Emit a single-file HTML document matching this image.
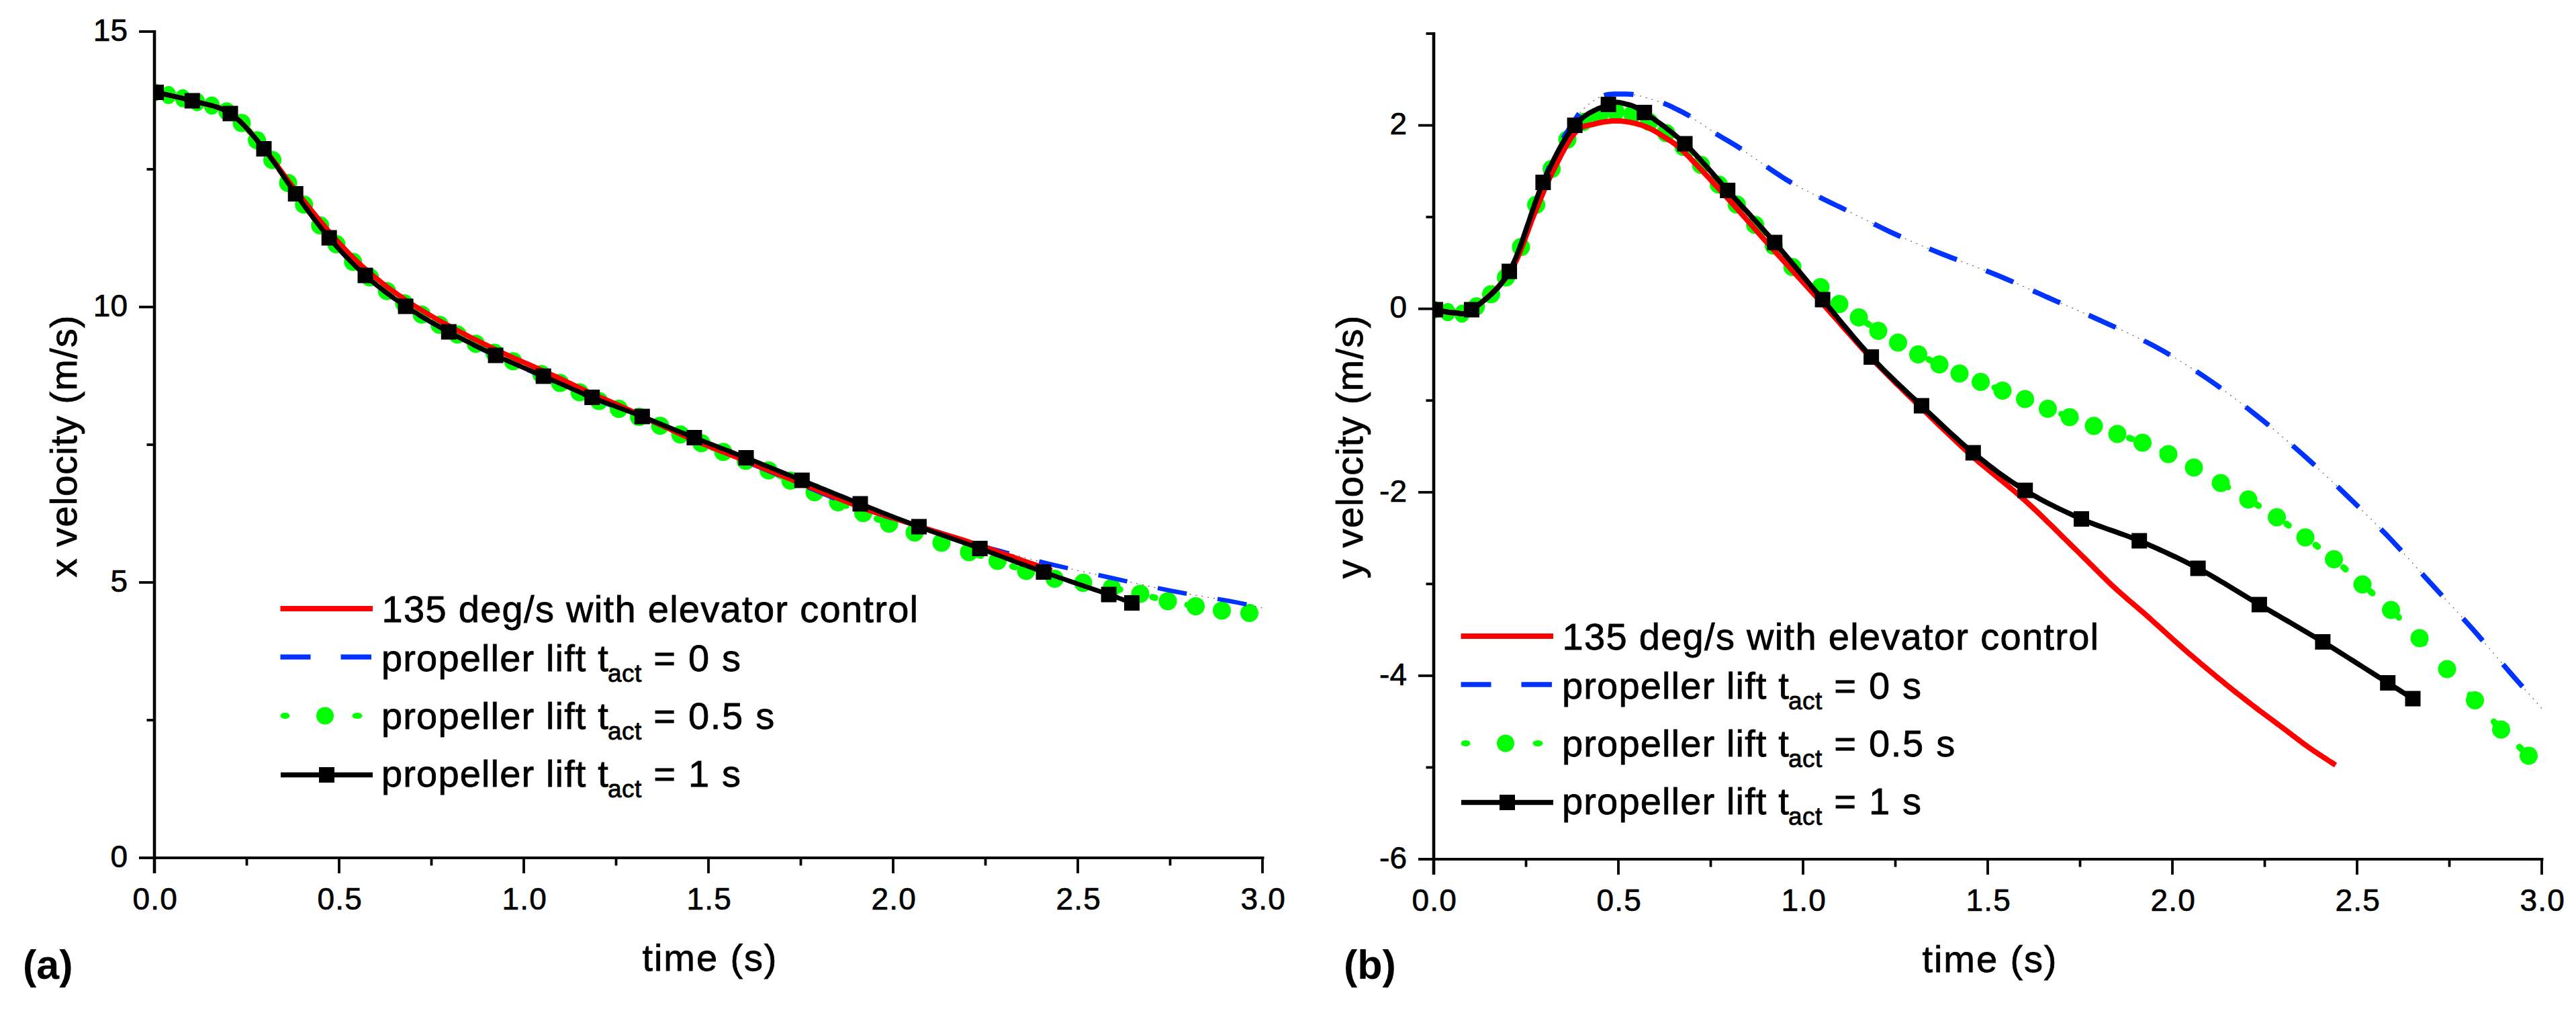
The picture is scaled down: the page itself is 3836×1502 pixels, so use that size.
<!DOCTYPE html>
<html lang="en"><head><meta charset="utf-8"><title>Velocity plots</title>
<style>html,body{margin:0;padding:0;background:#fff}svg{display:block}</style></head>
<body>
<svg width="3836" height="1502" viewBox="0 0 3836 1502" font-family='"Liberation Sans", Arial, sans-serif' fill="#000">
<rect width="3836" height="1502" fill="#fff"/>
<defs><clipPath id="cl"><rect x="230.0" y="0" width="1670.0" height="1277.0"/></clipPath><clipPath id="cr"><rect x="2135.0" y="0" width="1670.0" height="1279.0"/></clipPath></defs>
<g clip-path="url(#cl)">
<path d="M232.5 137.5L234.5 138.0L236.5 138.4L238.5 138.9L240.5 139.3L242.5 139.7L244.5 140.2L246.5 140.6L248.5 141.0L250.5 141.5L252.5 141.9L254.5 142.3L256.5 142.8L258.5 143.2L260.5 143.6L262.5 144.1L264.5 144.5L266.5 145.0L268.5 145.4L270.5 145.9L272.5 146.4L274.5 146.9L276.5 147.4L278.5 147.9L280.5 148.4L282.5 149.0L284.5 149.5L286.5 150.1L288.5 150.6L290.5 151.1L292.5 151.6L294.5 152.1L296.5 152.6L298.5 153.1L300.5 153.5L302.5 154.0L304.5 154.4L306.5 154.9L308.5 155.4L310.5 155.9L312.5 156.4L314.5 156.9L316.5 157.5L318.5 158.0L320.5 158.6L322.5 159.3L324.5 160.0L326.5 160.7L328.5 161.5L330.5 162.3L332.5 163.2L334.5 164.1L336.5 165.1L338.5 166.3L340.5 167.4L342.5 168.7L344.5 170.1L346.5 171.5L348.5 173.0L350.5 174.6L352.5 176.3L354.5 178.0L356.5 179.9L358.5 181.8L360.5 183.7L362.5 185.8L364.5 187.8L366.5 190.0L368.5 192.1L370.5 194.4L372.5 196.7L374.5 199.0L376.5 201.3L378.5 203.7L380.5 206.1L382.5 208.6L384.5 211.0L386.5 213.5L388.5 215.9L390.5 218.4L392.5 220.9L394.5 223.4L396.5 225.9L398.5 228.5L400.5 231.2L402.5 233.9L404.5 236.7L406.5 239.5L408.5 242.3L410.5 245.2L412.5 248.2L414.5 251.1L416.5 254.1L418.5 257.0L420.5 260.0L422.5 263.0L424.5 265.9L426.5 268.8L428.5 271.7L430.5 274.5L432.5 277.4L434.5 280.1L436.5 282.9L438.5 285.6L440.5 288.3L442.5 291.0L444.5 293.7L446.5 296.3L448.5 299.0L450.5 301.6L452.5 304.3L454.5 306.9L456.5 309.6L458.5 312.2L460.5 314.8L462.5 317.5L464.5 320.1L466.5 322.6L468.5 325.2L470.5 327.8L472.5 330.3L474.5 332.8L476.5 335.3L478.5 337.7L480.5 340.2L482.5 342.6L484.5 344.9L486.5 347.3L488.5 349.6L490.5 351.9L492.5 354.2L494.5 356.4L496.5 358.6L498.5 360.8L500.5 363.0L502.5 365.2L504.5 367.3L506.5 369.5L508.5 371.7L510.5 373.9L512.5 376.0L514.5 378.1L516.5 380.3L518.5 382.3L520.5 384.4L522.5 386.4L524.5 388.5L526.5 390.5L528.5 392.4L530.5 394.4L532.5 396.3L534.5 398.2L536.5 400.1L538.5 402.0L540.5 403.8L542.5 405.6L544.5 407.4L546.5 409.2L548.5 411.0L550.5 412.7L552.5 414.4L554.5 416.1L556.5 417.7L558.5 419.4L560.5 421.0L562.5 422.6L564.5 424.2L566.5 425.8L568.5 427.4L570.5 428.9L572.5 430.4L574.5 431.9L576.5 433.4L578.5 434.9L580.5 436.4L582.5 437.9L584.5 439.3L586.5 440.8L588.5 442.2L590.5 443.6L592.5 445.0L594.5 446.4L596.5 447.8L598.5 449.2L600.5 450.5L602.5 451.9L604.5 453.3L606.5 454.6L608.5 455.9L610.5 457.2L612.5 458.5L614.5 459.8L616.5 461.1L618.5 462.4L620.5 463.6L622.5 464.8L624.5 466.1L626.5 467.3L628.5 468.5L630.5 469.7L632.5 470.9L634.5 472.1L636.5 473.2L638.5 474.4L640.5 475.5L642.5 476.7L644.5 477.8L646.5 479.0L648.5 480.1L650.5 481.2L652.5 482.3L654.5 483.4L656.5 484.5L658.5 485.7L660.5 486.8L662.5 487.9L664.5 488.9L666.5 490.0L668.5 491.1L670.5 492.2L672.5 493.3L674.5 494.4L676.5 495.4L678.5 496.5L680.5 497.5L682.5 498.6L684.5 499.6L686.5 500.7L688.5 501.7L690.5 502.7L692.5 503.8L694.5 504.8L696.5 505.8L698.5 506.8L700.5 507.8L702.5 508.8L704.5 509.8L706.5 510.8L708.5 511.8L710.5 512.8L712.5 513.8L714.5 514.7L716.5 515.7L718.5 516.7L720.5 517.7L722.5 518.6L724.5 519.6L726.5 520.5L728.5 521.5L730.5 522.4L732.5 523.4L734.5 524.3L736.5 525.3L738.5 526.2L740.5 527.1L742.5 528.1L744.5 529.0L746.5 529.9L748.5 530.8L750.5 531.7L752.5 532.6L754.5 533.5L756.5 534.4L758.5 535.2L760.5 536.1L762.5 537.0L764.5 537.9L766.5 538.7L768.5 539.6L770.5 540.4L772.5 541.3L774.5 542.1L776.5 543.0L778.5 543.9L780.5 544.8L782.5 545.7L784.5 546.6L786.5 547.5L788.5 548.5L790.5 549.4L792.5 550.3L794.5 551.3L796.5 552.2L798.5 553.1L800.5 554.1L802.5 555.0L804.5 556.0L806.5 556.9L808.5 557.9L810.5 558.8L812.5 559.8L814.5 560.7L816.5 561.7L818.5 562.6L820.5 563.6L822.5 564.6L824.5 565.5L826.5 566.5L828.5 567.5L830.5 568.4L832.5 569.4L834.5 570.4L836.5 571.3L838.5 572.3L840.5 573.3L842.5 574.2L844.5 575.2L846.5 576.1L848.5 577.1L850.5 578.1L852.5 579.0L854.5 580.0L856.5 580.9L858.5 581.9L860.5 582.8L862.5 583.8L864.5 584.7L866.5 585.6L868.5 586.6L870.5 587.5L872.5 588.4L874.5 589.3L876.5 590.2L878.5 591.1L880.5 592.0L882.5 592.9L884.5 593.7L886.5 594.6L888.5 595.4L890.5 596.2L892.5 597.1L894.5 597.9L896.5 598.7L898.5 599.5L900.5 600.3L902.5 601.1L904.5 601.9L906.5 602.7L908.5 603.5L910.5 604.3L912.5 605.1L914.5 605.9L916.5 606.7L918.5 607.5L920.5 608.2L922.5 609.0L924.5 609.8L926.5 610.6L928.5 611.4L930.5 612.2L932.5 613.0L934.5 613.7L936.5 614.5L938.5 615.3L940.5 616.1L942.5 616.9L944.5 617.7L946.5 618.5L948.5 619.3L950.5 620.1L952.5 621.0L954.5 621.8L956.5 622.6L958.5 623.4L960.5 624.3L962.5 625.1L964.5 625.9L966.5 626.8L968.5 627.6L970.5 628.5L972.5 629.3L974.5 630.2L976.5 631.0L978.5 631.9L980.5 632.7L982.5 633.6L984.5 634.4L986.5 635.3L988.5 636.2L990.5 637.0L992.5 637.9L994.5 638.7L996.5 639.6L998.5 640.5L1000.5 641.3L1002.5 642.2L1004.5 643.0L1006.5 643.9L1008.5 644.8L1010.5 645.6L1012.5 646.5L1014.5 647.3L1016.5 648.2L1018.5 649.0L1020.5 649.9L1022.5 650.7L1024.5 651.6L1026.5 652.4L1028.5 653.3L1030.5 654.1L1032.5 654.9L1034.5 655.8L1036.5 656.6L1038.5 657.4L1040.5 658.2L1042.5 659.0L1044.5 659.8L1046.5 660.6L1048.5 661.4L1050.5 662.2L1052.5 663.0L1054.5 663.8L1056.5 664.6L1058.5 665.4L1060.5 666.2L1062.5 666.9L1064.5 667.7L1066.5 668.5L1068.5 669.3L1070.5 670.1L1072.5 670.9L1074.5 671.7L1076.5 672.5L1078.5 673.3L1080.5 674.0L1082.5 674.8L1084.5 675.6L1086.5 676.4L1088.5 677.2L1090.5 678.0L1092.5 678.8L1094.5 679.6L1096.5 680.4L1098.5 681.2L1100.5 682.0L1102.5 682.8L1104.5 683.6L1106.5 684.4L1108.5 685.2L1110.5 686.0L1112.5 686.8L1114.5 687.6L1116.5 688.4L1118.5 689.2L1120.5 690.1L1122.3 690.8L1124.0 691.5L1126.0 692.3L1128.5 693.3L1131.5 694.6L1134.8 695.9L1138.8 697.7L1144.0 700.0L1150.7 703.1L1158.7 706.8L1167.3 710.9L1176.0 715.0L1184.8 719.3L1194.1 723.8L1203.4 728.2L1212.5 732.5L1221.4 736.4L1230.1 740.2L1238.8 743.8L1247.5 747.5L1256.1 751.2L1264.7 754.9L1273.4 758.6L1282.5 762.5L1292.2 766.6L1302.2 770.8L1312.5 775.1L1322.5 779.0L1332.3 782.6L1342.0 785.8L1351.7 789.1L1361.5 792.5L1371.4 796.2L1381.2 800.0L1391.1 803.8L1401.0 807.5L1410.7 811.0L1420.3 814.4L1430.0 817.7L1440.0 821.0L1450.4 824.2L1461.0 827.4L1471.8 830.6L1482.5 834.0L1493.1 837.7L1503.8 841.6L1514.4 845.4L1525.0 849.0L1535.6 852.3L1546.1 855.5L1556.7 858.5L1567.5 861.0L1578.6 863.0L1590.0 864.5L1601.4 865.9L1612.5 867.5L1623.3 869.3L1633.8 871.1L1644.4 873.0L1655.0 875.0L1665.9 877.1L1676.8 879.3L1687.8 881.6L1698.5 884.0L1708.9 886.7L1719.1 889.6L1729.3 892.4L1739.5 895.0L1749.9 897.1L1760.4 899.0L1770.8 900.8L1781.0 902.5L1790.9 904.3L1800.5 906.0L1810.2 907.6L1820.0 909.0L1830.1 910.1L1840.4 910.9L1850.7 911.7L1861.0 912.5" fill="none" stroke="#00ff00" stroke-width="9.5" stroke-linecap="round" stroke-dasharray="4 49.5" stroke-dashoffset="8.6"/>
<g fill="#00ff00"><ellipse cx="230.0" cy="137.5" rx="11.3" ry="13.5"/><ellipse cx="250.9" cy="141.5" rx="11.3" ry="13.5"/><ellipse cx="272.1" cy="146.3" rx="11.5" ry="13.5"/><ellipse cx="293.6" cy="151.9" rx="11.7" ry="13.5"/><ellipse cx="315.4" cy="157.1" rx="11.8" ry="13.5"/><ellipse cx="337.5" cy="165.7" rx="12.4" ry="13.5"/><ellipse cx="359.9" cy="183.1" rx="13.5" ry="13.5"/><ellipse cx="382.6" cy="208.7" rx="13.5" ry="13.5"/><ellipse cx="405.6" cy="238.3" rx="13.5" ry="13.5"/><ellipse cx="429.0" cy="272.4" rx="13.5" ry="13.5"/><ellipse cx="452.7" cy="304.5" rx="13.5" ry="13.5"/><ellipse cx="476.7" cy="335.5" rx="13.5" ry="13.5"/><ellipse cx="501.0" cy="363.6" rx="13.5" ry="13.5"/><ellipse cx="525.7" cy="389.7" rx="13.5" ry="13.5"/><ellipse cx="550.8" cy="412.9" rx="13.5" ry="13.5"/><ellipse cx="576.2" cy="433.2" rx="13.5" ry="13.5"/><ellipse cx="601.9" cy="451.5" rx="13.5" ry="13.5"/><ellipse cx="628.0" cy="468.2" rx="13.5" ry="13.5"/><ellipse cx="654.5" cy="483.4" rx="13.5" ry="13.5"/><ellipse cx="681.3" cy="498.0" rx="13.5" ry="13.5"/><ellipse cx="708.6" cy="511.8" rx="13.5" ry="13.5"/><ellipse cx="736.2" cy="525.1" rx="13.5" ry="13.5"/><ellipse cx="764.1" cy="537.7" rx="13.5" ry="13.5"/><ellipse cx="806.0" cy="556.7" rx="13.5" ry="13.5"/><ellipse cx="834.0" cy="570.1" rx="13.5" ry="13.5"/><ellipse cx="863.0" cy="584.0" rx="13.5" ry="13.5"/><ellipse cx="892.0" cy="596.9" rx="13.5" ry="13.5"/><ellipse cx="921.5" cy="608.6" rx="13.5" ry="13.5"/><ellipse cx="951.5" cy="620.6" rx="13.5" ry="13.5"/><ellipse cx="983.0" cy="633.8" rx="13.5" ry="13.5"/><ellipse cx="1013.0" cy="646.7" rx="13.5" ry="13.5"/><ellipse cx="1044.5" cy="659.8" rx="13.5" ry="13.5"/><ellipse cx="1077.0" cy="672.7" rx="13.5" ry="13.5"/><ellipse cx="1110.5" cy="686.0" rx="13.5" ry="13.5"/><ellipse cx="1144.5" cy="700.2" rx="13.5" ry="13.5"/><ellipse cx="1177.0" cy="715.5" rx="13.5" ry="13.5"/><ellipse cx="1213.0" cy="732.7" rx="13.5" ry="13.5"/><ellipse cx="1248.0" cy="747.7" rx="13.5" ry="13.5"/><ellipse cx="1285.5" cy="763.8" rx="13.5" ry="13.5"/><ellipse cx="1324.0" cy="779.5" rx="13.5" ry="13.5"/><ellipse cx="1362.0" cy="792.7" rx="13.5" ry="13.5"/><ellipse cx="1402.0" cy="807.9" rx="13.5" ry="13.5"/><ellipse cx="1443.0" cy="821.9" rx="13.5" ry="13.5"/><ellipse cx="1485.5" cy="835.0" rx="13.5" ry="13.5"/><ellipse cx="1528.0" cy="849.9" rx="13.5" ry="13.5"/><ellipse cx="1570.5" cy="861.5" rx="13.5" ry="13.5"/><ellipse cx="1613.0" cy="867.6" rx="13.5" ry="13.5"/><ellipse cx="1655.5" cy="875.1" rx="13.5" ry="13.5"/><ellipse cx="1698.0" cy="883.9" rx="13.5" ry="13.5"/><ellipse cx="1739.0" cy="894.9" rx="13.5" ry="13.5"/><ellipse cx="1780.5" cy="902.4" rx="13.5" ry="13.5"/><ellipse cx="1819.5" cy="908.9" rx="13.5" ry="13.5"/><ellipse cx="1860.5" cy="912.5" rx="13.5" ry="13.5"/></g>
<path d="M232.5 137.5L235.8 138.3L239.2 139.0L242.5 139.8L245.9 140.5L249.2 141.2L252.5 141.9L255.9 142.7L259.2 143.4L262.6 144.1L265.9 144.9L269.3 145.7L272.6 146.5L276.0 147.3L279.4 148.3L282.8 149.2L286.3 150.1L289.8 151.0L293.3 151.8L296.9 152.7L300.4 153.6L304.0 154.5L307.6 155.3L311.3 156.2L314.9 157.1L318.5 158.2L322.1 159.3L325.7 160.5L329.2 161.9L332.7 163.4L336.2 165.2L339.6 167.1L343.0 169.2L346.3 171.5L349.6 174.0L352.8 176.8L356.0 179.6L359.2 182.6L362.4 185.8L365.5 189.1L368.6 192.4L371.7 195.9L374.8 199.5L377.8 203.1L380.9 206.8L383.9 210.5L387.0 214.2L390.0 217.9L393.0 221.7L396.0 225.6L399.0 229.5L402.0 233.5L404.9 237.5L407.9 241.7L410.8 245.9L413.7 250.2L416.6 254.4L419.5 258.8L422.4 263.1L425.3 267.5L428.2 271.8L431.2 276.1L434.2 280.3L437.2 284.6L440.2 288.8L443.2 293.0L446.2 297.2L449.3 301.3L452.4 305.5L455.5 309.7L458.5 313.9L461.6 318.1L464.8 322.3L467.9 326.4L471.0 330.5L474.2 334.6L477.3 338.7L480.5 342.7L483.7 346.6L487.0 350.5L490.2 354.4L493.4 358.2L496.7 361.9L499.9 365.6L503.2 369.3L506.5 372.9L509.8 376.5L513.1 380.1L516.5 383.6L519.8 387.1L523.2 390.6L526.6 394.0L530.0 397.3L533.5 400.7L536.9 404.0L540.5 407.2L544.0 410.4L547.6 413.6L551.2 416.7L554.8 419.8L558.5 422.9L562.2 425.8L565.9 428.8L569.6 431.7L573.4 434.6L577.2 437.5L581.0 440.3L584.8 443.0L588.7 445.8L592.5 448.5L596.4 451.2L600.2 453.9L604.1 456.5L608.0 459.1L611.9 461.7L615.8 464.2L619.7 466.7L623.7 469.1L627.6 471.5L631.6 473.9L635.6 476.3L639.6 478.6L643.6 480.9L647.7 483.2L651.7 485.5L655.8 487.8L659.9 490.1L664.1 492.3L668.3 494.6L672.5 496.9L676.7 499.2L681.0 501.4L685.3 503.7L689.6 505.9L694.0 508.2L698.3 510.4L702.7 512.6L707.1 514.8L711.6 517.0L716.0 519.1L720.4 521.3L724.8 523.4L729.2 525.5L733.7 527.6L738.1 529.7L742.5 531.8L746.9 533.8L751.3 535.8L755.7 537.8L760.2 539.7L764.6 541.6L769.0 543.6L773.5 545.5L777.9 547.4L782.4 549.3L786.8 551.2L791.3 553.1L795.7 555.0L800.2 556.9L804.7 558.9L809.2 560.8L813.7 562.8L818.2 564.8L822.7 566.8L827.2 568.7L831.7 570.7L836.2 572.8L840.7 574.8L845.2 576.8L849.8 578.8L854.3 580.8L858.9 582.7L863.4 584.7L868.0 586.7L872.6 588.6L877.1 590.5L881.7 592.4L886.3 594.3L890.9 596.1L895.5 597.9L900.2 599.7L904.8 601.5L909.4 603.2L914.0 605.0L918.7 606.7L923.3 608.5L928.0 610.2L932.7 611.9L937.4 613.7L942.1 615.6L946.8 617.5L951.5 619.4L956.2 621.3L961.0 623.4L965.8 625.4L970.6 627.5L975.5 629.6L980.3 631.7L985.2 633.9L990.0 636.0L994.9 638.2L999.8 640.3L1004.7 642.5L1009.6 644.6L1014.4 646.8L1019.3 648.9L1024.2 651.0L1029.0 653.1L1033.9 655.2L1038.7 657.2L1043.5 659.3L1048.3 661.3L1053.1 663.3L1057.8 665.3L1062.6 667.3L1067.3 669.2L1072.1 671.2L1076.9 673.2L1081.7 675.2L1086.5 677.2L1091.3 679.2L1096.2 681.3L1101.1 683.3L1106.0 685.4L1111.0 687.5L1116.1 689.6L1121.1 691.7L1126.2 693.7L1131.3 695.8L1136.5 697.9L1141.7 700.1L1146.9 702.2L1152.1 704.4L1157.3 706.6L1162.6 708.7L1167.8 710.9L1173.1 713.1L1178.4 715.3L1183.7 717.5L1189.0 719.7L1194.3 721.9L1199.7 724.1L1205.0 726.4L1210.4 728.6L1215.7 730.8L1221.1 733.1L1226.5 735.4L1232.0 737.6L1237.4 739.9L1242.8 742.0L1248.3 744.1L1253.7 746.1L1259.2 748.1L1264.6 750.1L1270.1 752.0L1275.6 753.8L1281.0 755.7L1286.4 757.5L1291.9 759.4L1297.3 761.2L1302.7 763.1L1308.2 765.0L1313.6 766.8L1319.0 768.7L1324.5 770.5L1329.9 772.2L1335.4 773.9L1340.9 775.5L1346.4 777.1L1351.9 778.8L1357.4 780.3L1362.9 781.9L1368.5 783.5L1374.0 785.1L1379.6 786.7L1385.2 788.3L1390.8 790.0L1396.5 791.7L1402.1 793.5L1407.7 795.3L1413.4 797.2L1419.1 799.0L1424.8 800.7L1430.5 802.6L1436.2 804.4L1441.9 806.2L1447.7 808.1L1453.4 810.0L1459.2 811.8L1465.0 813.5L1470.9 815.2L1476.7 816.8L1482.6 818.4L1488.5 820.0L1494.4 821.6L1500.3 823.1L1506.2 824.7L1511.8 826.1L1517.2 827.5L1523.1 829.1L1530.1 830.9L1537.6 832.9L1545.5 835.1L1555.3 837.7L1568.8 841.0L1587.1 845.2L1609.3 850.2L1633.0 855.4L1656.0 860.5L1677.9 865.4L1699.9 870.2L1721.9 875.0L1744.0 879.5L1767.1 883.8L1790.8 887.8L1813.2 891.6L1832.5 895.0L1847.3 897.9L1858.8 900.3L1869.1 902.6L1880.0 905.0" fill="none" stroke="#555" stroke-width="1.1" stroke-dasharray="2 7"/>
<path d="M232.5 137.5L235.8 138.3L239.2 139.0L242.5 139.8L245.9 140.5L249.2 141.2L252.5 141.9L255.9 142.7L259.2 143.4L262.6 144.1L265.9 144.9L269.3 145.7L272.6 146.5L276.0 147.3L279.4 148.3L282.8 149.2L286.3 150.1L289.8 151.0L293.3 151.8L296.9 152.7L300.4 153.6L304.0 154.5L307.6 155.3L311.3 156.2L314.9 157.1L318.5 158.2L322.1 159.3L325.7 160.5L329.2 161.9L332.7 163.4L336.2 165.2L339.6 167.1L343.0 169.2L346.3 171.5L349.6 174.0L352.8 176.8L356.0 179.6L359.2 182.6L362.4 185.8L365.5 189.1L368.6 192.4L371.7 195.9L374.8 199.5L377.8 203.1L380.9 206.8L383.9 210.5L387.0 214.2L390.0 217.9L393.0 221.7L396.0 225.6L399.0 229.5L402.0 233.5L404.9 237.5L407.9 241.7L410.8 245.9L413.7 250.2L416.6 254.4L419.5 258.8L422.4 263.1L425.3 267.5L428.2 271.8L431.2 276.1L434.2 280.3L437.2 284.6L440.2 288.8L443.2 293.0L446.2 297.2L449.3 301.3L452.4 305.5L455.5 309.7L458.5 313.9L461.6 318.1L464.8 322.3L467.9 326.4L471.0 330.5L474.2 334.6L477.3 338.7L480.5 342.7L483.7 346.6L487.0 350.5L490.2 354.4L493.4 358.2L496.7 361.9L499.9 365.6L503.2 369.3L506.5 372.9L509.8 376.5L513.1 380.1L516.5 383.6L519.8 387.1L523.2 390.6L526.6 394.0L530.0 397.3L533.5 400.7L536.9 404.0L540.5 407.2L544.0 410.4L547.6 413.6L551.2 416.7L554.8 419.8L558.5 422.9L562.2 425.8L565.9 428.8L569.6 431.7L573.4 434.6L577.2 437.5L581.0 440.3L584.8 443.0L588.7 445.8L592.5 448.5L596.4 451.2L600.2 453.9L604.1 456.5L608.0 459.1L611.9 461.7L615.8 464.2L619.7 466.7L623.7 469.1L627.6 471.5L631.6 473.9L635.6 476.3L639.6 478.6L643.6 480.9L647.7 483.2L651.7 485.5L655.8 487.8L659.9 490.1L664.1 492.3L668.3 494.6L672.5 496.9L676.7 499.2L681.0 501.4L685.3 503.7L689.6 505.9L694.0 508.2L698.3 510.4L702.7 512.6L707.1 514.8L711.6 517.0L716.0 519.1L720.4 521.3L724.8 523.4L729.2 525.5L733.7 527.6L738.1 529.7L742.5 531.8L746.9 533.8L751.3 535.8L755.7 537.8L760.2 539.7L764.6 541.6L769.0 543.6L773.5 545.5L777.9 547.4L782.4 549.3L786.8 551.2L791.3 553.1L795.7 555.0L800.2 556.9L804.7 558.9L809.2 560.8L813.7 562.8L818.2 564.8L822.7 566.8L827.2 568.7L831.7 570.7L836.2 572.8L840.7 574.8L845.2 576.8L849.8 578.8L854.3 580.8L858.9 582.7L863.4 584.7L868.0 586.7L872.6 588.6L877.1 590.5L881.7 592.4L886.3 594.3L890.9 596.1L895.5 597.9L900.2 599.7L904.8 601.5L909.4 603.2L914.0 605.0L918.7 606.7L923.3 608.5L928.0 610.2L932.7 611.9L937.4 613.7L942.1 615.6L946.8 617.5L951.5 619.4L956.2 621.3L961.0 623.4L965.8 625.4L970.6 627.5L975.5 629.6L980.3 631.7L985.2 633.9L990.0 636.0L994.9 638.2L999.8 640.3L1004.7 642.5L1009.6 644.6L1014.4 646.8L1019.3 648.9L1024.2 651.0L1029.0 653.1L1033.9 655.2L1038.7 657.2L1043.5 659.3L1048.3 661.3L1053.1 663.3L1057.8 665.3L1062.6 667.3L1067.3 669.2L1072.1 671.2L1076.9 673.2L1081.7 675.2L1086.5 677.2L1091.3 679.2L1096.2 681.3L1101.1 683.3L1106.0 685.4L1111.0 687.5L1116.1 689.6L1121.1 691.7L1126.2 693.7L1131.3 695.8L1136.5 697.9L1141.7 700.1L1146.9 702.2L1152.1 704.4L1157.3 706.6L1162.6 708.7L1167.8 710.9L1173.1 713.1L1178.4 715.3L1183.7 717.5L1189.0 719.7L1194.3 721.9L1199.7 724.1L1205.0 726.4L1210.4 728.6L1215.7 730.8L1221.1 733.1L1226.5 735.4L1232.0 737.6L1237.4 739.9L1242.8 742.0L1248.3 744.1L1253.7 746.1L1259.2 748.1L1264.6 750.1L1270.1 752.0L1275.6 753.8L1281.0 755.7L1286.4 757.5L1291.9 759.4L1297.3 761.2L1302.7 763.1L1308.2 765.0L1313.6 766.8L1319.0 768.7L1324.5 770.5L1329.9 772.2L1335.4 773.9L1340.9 775.5L1346.4 777.1L1351.9 778.8L1357.4 780.3L1362.9 781.9L1368.5 783.5L1374.0 785.1L1379.6 786.7L1385.2 788.3L1390.8 790.0L1396.5 791.7L1402.1 793.5L1407.7 795.3L1413.4 797.2L1419.1 799.0L1424.8 800.7L1430.5 802.6L1436.2 804.4L1441.9 806.2L1447.7 808.1L1453.4 810.0L1459.2 811.8L1465.0 813.5L1470.9 815.2L1476.7 816.8L1482.6 818.4L1488.5 820.0L1494.4 821.6L1500.3 823.1L1506.2 824.7L1511.8 826.1L1517.2 827.5L1523.1 829.1L1530.1 830.9L1537.6 832.9L1545.5 835.1L1555.3 837.7L1568.8 841.0L1587.1 845.2L1609.3 850.2L1633.0 855.4L1656.0 860.5L1677.9 865.4L1699.9 870.2L1721.9 875.0L1744.0 879.5L1767.1 883.8L1790.8 887.8L1813.2 891.6L1832.5 895.0L1847.3 897.9L1858.8 900.3L1869.1 902.6L1880.0 905.0" fill="none" stroke="#0033ff" stroke-width="6.5" stroke-dasharray="44.0 46.5" stroke-dashoffset="12.9"/>
<path d="M232.5 137.5L235.9 138.3L239.2 139.0L242.5 139.8L245.9 140.5L249.2 141.2L252.5 141.9L255.9 142.6L259.2 143.3L262.6 144.1L265.9 144.8L269.3 145.6L272.6 146.4L276.0 147.3L279.4 148.1L282.9 149.0L286.3 150.0L289.8 150.9L293.3 151.8L296.8 152.7L300.4 153.5L304.0 154.3L307.6 155.2L311.3 156.1L314.9 157.0L318.5 158.0L322.1 159.1L325.7 160.4L329.2 161.7L332.7 163.3L336.2 165.0L339.6 166.9L343.0 169.0L346.3 171.3L349.6 173.9L352.8 176.6L356.0 179.4L359.2 182.4L362.4 185.6L365.5 188.9L368.6 192.2L371.7 195.7L374.8 199.3L377.8 202.9L380.9 206.6L383.9 210.3L386.9 214.0L390.0 217.8L393.0 221.5L396.0 225.2L399.0 228.7L402.0 232.4L404.9 236.1L407.9 240.0L410.8 243.8L413.7 247.8L416.6 251.7L419.5 255.7L422.4 259.7L425.3 263.7L428.2 267.7L431.2 271.7L434.2 275.6L437.1 279.5L440.2 283.4L443.2 287.2L446.3 291.1L449.3 294.9L452.4 298.8L455.5 302.7L458.5 306.6L461.6 310.4L464.8 314.3L467.9 318.1L471.0 321.9L474.2 325.6L477.3 329.3L480.5 333.3L483.7 337.2L487.0 341.1L490.2 344.9L493.4 348.6L496.7 352.4L500.0 356.0L503.2 359.7L506.5 363.3L509.8 366.9L513.1 370.4L516.5 373.9L519.8 377.3L523.2 380.8L526.6 384.1L530.0 387.5L533.5 390.8L536.9 394.0L540.5 397.3L544.0 400.4L547.6 403.6L551.2 406.7L554.8 409.7L558.5 412.7L562.2 415.7L565.9 418.7L569.6 421.6L573.4 424.5L577.2 427.4L581.0 430.2L584.8 433.0L588.7 435.8L592.5 438.5L596.4 441.2L600.2 443.9L604.1 446.5L608.0 449.2L611.9 451.7L615.8 454.3L619.7 456.8L623.7 459.2L627.6 461.6L631.6 464.0L635.6 466.4L639.6 468.7L643.6 471.1L647.7 473.4L651.7 475.7L655.8 478.0L659.9 480.3L664.1 482.6L668.3 484.9L672.5 487.2L676.7 489.5L681.0 491.8L685.3 494.0L689.6 496.3L694.0 498.6L698.3 500.8L702.7 503.0L707.1 505.2L711.6 507.4L716.0 509.6L720.4 511.8L724.8 513.9L729.2 516.1L733.7 518.2L738.1 520.4L742.5 522.5L746.9 524.5L751.3 526.6L755.7 528.6L760.2 530.6L764.6 532.6L769.0 534.5L773.5 536.5L777.9 538.4L782.4 540.4L786.8 542.3L791.3 544.3L795.7 546.2L800.2 548.2L804.7 550.2L809.2 552.2L813.7 554.2L818.2 556.2L822.7 558.3L827.2 560.3L831.7 562.4L836.2 564.5L840.7 566.7L845.2 568.8L849.8 571.0L854.3 573.2L858.9 575.4L863.4 577.5L868.0 579.7L872.6 581.8L877.1 583.9L881.7 586.0L886.3 588.0L890.9 590.1L895.5 592.1L900.2 594.0L904.8 596.0L909.4 597.9L914.0 599.9L918.7 601.9L923.3 604.0L928.0 606.2L932.7 608.4L937.4 610.5L942.1 612.7L946.8 615.0L951.5 617.2L956.2 619.5L961.0 621.8L965.8 624.1L970.6 626.3L975.5 628.5L980.3 630.8L985.2 633.1L990.0 635.4L994.9 637.7L999.8 640.0L1004.7 642.3L1009.6 644.6L1014.4 646.9L1019.3 649.1L1024.2 651.4L1029.0 653.6L1033.9 655.6L1038.7 657.5L1043.5 659.5L1048.3 661.4L1053.1 663.3L1057.8 665.2L1062.6 667.1L1067.3 669.0L1072.1 670.9L1076.9 672.8L1081.7 674.7L1086.5 676.6L1091.3 678.6L1096.2 680.5L1101.1 682.5L1106.0 684.5L1111.0 686.5L1116.1 688.5L1121.1 690.6L1126.2 692.6L1131.3 694.7L1136.5 696.8L1141.7 698.9L1146.9 701.0L1152.1 703.1L1157.3 705.3L1162.6 707.4L1167.8 709.6L1173.1 711.7L1178.4 713.9L1183.7 716.1L1189.0 718.2L1194.3 720.4L1199.6 722.6L1205.0 724.7L1210.4 726.9L1215.7 729.1L1221.1 731.4L1226.5 733.5L1232.0 735.7L1237.4 737.8L1242.8 740.0L1248.3 742.2L1253.7 744.3L1259.2 746.5L1264.7 748.6L1270.1 750.8L1275.6 752.9L1281.0 755.0L1286.4 757.1L1291.9 758.9L1297.3 760.7L1302.7 762.4L1308.2 764.2L1313.6 766.0L1319.0 767.7L1324.5 769.5L1329.9 771.2L1335.4 772.9L1340.9 774.7L1346.4 776.4L1351.9 778.1L1357.4 779.8L1362.9 781.7L1368.5 783.5L1374.0 785.3L1379.6 787.0L1385.2 788.8L1390.8 790.6L1396.5 792.3L1402.1 794.0L1407.7 795.8L1413.4 797.5L1419.1 799.2L1424.8 800.9L1430.5 802.7L1436.2 804.4L1441.9 806.2L1447.7 808.2L1453.4 810.1L1459.2 812.1L1465.0 814.1L1470.9 816.1L1476.7 818.1L1482.6 820.1L1488.5 822.2L1494.4 824.3L1500.3 826.3L1506.2 828.4L1512.2 830.5L1518.1 832.6L1524.1 834.7L1530.1 836.7L1536.1 838.8L1542.1 840.9L1548.0 842.9L1554.0 844.9L1560.2 846.9L1566.5 849.0" fill="none" stroke="#ff0000" stroke-width="7.5"/>
<path d="M232.5 137.5L235.9 138.3L239.2 139.0L242.5 139.8L245.9 140.5L249.2 141.2L252.5 141.9L255.9 142.6L259.2 143.3L262.6 144.1L265.9 144.8L269.3 145.6L272.6 146.4L276.0 147.3L279.4 148.1L282.9 149.0L286.3 150.0L289.8 150.9L293.3 151.8L296.8 152.7L300.4 153.5L304.0 154.3L307.6 155.2L311.3 156.1L314.9 157.0L318.5 158.0L322.1 159.1L325.7 160.4L329.2 161.7L332.7 163.3L336.2 165.0L339.6 166.9L343.0 169.0L346.3 171.3L349.6 173.9L352.8 176.6L356.0 179.4L359.2 182.4L362.4 185.6L365.5 188.9L368.6 192.2L371.7 195.7L374.8 199.3L377.8 202.9L380.9 206.6L383.9 210.3L386.9 214.0L390.0 217.8L393.0 221.5L396.0 225.3L399.0 229.2L402.0 233.2L404.9 237.3L407.9 241.4L410.8 245.6L413.7 249.9L416.6 254.2L419.5 258.5L422.4 262.8L425.3 267.2L428.2 271.5L431.2 275.8L434.2 280.1L437.1 284.3L440.2 288.5L443.2 292.7L446.3 296.8L449.3 301.0L452.4 305.2L455.5 309.4L458.5 313.6L461.6 317.8L464.8 321.9L467.9 326.1L471.0 330.2L474.2 334.3L477.3 338.3L480.5 342.3L483.7 346.3L487.0 350.2L490.2 354.0L493.4 357.8L496.7 361.5L500.0 365.2L503.2 368.9L506.5 372.5L509.8 376.1L513.1 379.7L516.5 383.2L519.8 386.7L523.2 390.1L526.6 393.6L530.0 396.9L533.5 400.3L536.9 403.5L540.5 406.8L544.0 410.0L547.6 413.2L551.2 416.3L554.8 419.4L558.5 422.4L562.2 425.4L565.9 428.3L569.6 431.2L573.4 434.1L577.2 437.0L581.0 439.8L584.8 442.6L588.7 445.3L592.5 448.0L596.4 450.7L600.2 453.4L604.1 456.0L608.0 458.6L611.9 461.2L615.8 463.7L619.7 466.1L623.7 468.6L627.6 471.0L631.6 473.3L635.6 475.7L639.6 478.0L643.6 480.3L647.7 482.6L651.7 484.9L655.8 487.2L659.9 489.4L664.1 491.7L668.3 494.0L672.5 496.3L676.7 498.5L681.0 500.8L685.3 503.1L689.6 505.3L694.0 507.5L698.3 509.7L702.7 511.9L707.1 514.1L711.6 516.3L716.0 518.5L720.4 520.6L724.8 522.7L729.2 524.8L733.7 526.9L738.1 529.0L742.5 531.0L746.9 533.1L751.3 535.1L755.7 537.0L760.2 539.0L764.6 540.9L769.0 542.8L773.5 544.7L777.9 546.6L782.4 548.5L786.8 550.4L791.3 552.3L795.7 554.2L800.2 556.1L804.7 558.1L809.2 560.0L813.7 562.0L818.2 563.9L822.7 565.9L827.2 567.9L831.7 569.9L836.2 571.9L840.7 573.9L845.2 575.9L849.8 577.9L854.3 579.9L858.9 581.9L863.4 583.8L868.0 585.8L872.6 587.7L877.1 589.6L881.7 591.5L886.3 593.4L890.9 595.2L895.5 597.0L900.2 598.8L904.8 600.5L909.4 602.3L914.0 604.0L918.7 605.8L923.3 607.5L928.0 609.2L932.7 611.0L937.4 612.7L942.1 614.5L946.8 616.3L951.5 618.1L956.2 620.0L961.0 621.9L965.8 623.8L970.6 625.7L975.5 627.7L980.3 629.7L985.2 631.7L990.0 633.7L994.9 635.7L999.8 637.7L1004.7 639.7L1009.6 641.7L1014.4 643.7L1019.3 645.6L1024.2 647.6L1029.0 649.6L1033.9 651.5L1038.7 653.4L1043.5 655.3L1048.3 657.2L1053.1 659.0L1057.8 660.9L1062.6 662.7L1067.3 664.5L1072.1 666.4L1076.9 668.2L1081.7 670.1L1086.5 671.9L1091.3 673.8L1096.2 675.7L1101.1 677.6L1106.0 679.5L1111.0 681.5L1116.1 683.5L1121.1 685.5L1126.2 687.5L1131.3 689.6L1136.5 691.7L1141.7 693.7L1146.9 695.8L1152.1 697.9L1157.3 700.1L1162.6 702.2L1167.8 704.3L1173.1 706.4L1178.4 708.6L1183.7 710.7L1189.0 712.9L1194.3 715.0L1199.6 717.1L1205.0 719.3L1210.4 721.5L1215.7 723.7L1221.1 725.9L1226.5 728.1L1232.0 730.3L1237.4 732.5L1242.8 734.7L1248.3 736.9L1253.7 739.1L1259.2 741.3L1264.7 743.5L1270.1 745.7L1275.6 747.8L1281.0 750.0L1286.4 752.2L1291.9 754.3L1297.3 756.5L1302.7 758.6L1308.2 760.7L1313.6 762.9L1319.0 765.0L1324.5 767.2L1329.9 769.3L1335.4 771.4L1340.9 773.5L1346.4 775.6L1351.9 777.7L1357.4 779.8L1362.9 781.9L1368.5 784.0L1374.0 786.1L1379.6 788.1L1385.2 790.2L1390.8 792.2L1396.5 794.2L1402.1 796.2L1407.7 798.2L1413.4 800.2L1419.1 802.2L1424.8 804.2L1430.5 806.2L1436.2 808.2L1441.9 810.3L1447.7 812.3L1453.4 814.4L1459.2 816.5L1465.0 818.6L1470.9 820.8L1476.7 822.9L1482.6 825.1L1488.5 827.3L1494.4 829.5L1500.3 831.7L1506.2 833.9L1512.2 836.2L1518.1 838.4L1524.1 840.6L1530.1 842.8L1536.1 845.0L1542.1 847.2L1548.0 849.3L1554.0 851.5L1560.2 853.7L1566.5 855.9L1573.0 858.2L1579.6 860.5L1586.3 862.8L1593.0 865.1L1599.7 867.4L1606.3 869.7L1612.8 871.9L1619.2 874.0L1625.3 876.1L1631.2 878.1L1636.7 880.0L1641.9 881.8L1646.7 883.5L1651.1 885.0L1654.9 886.4L1658.4 887.6L1661.4 888.6L1664.1 889.6L1666.5 890.5L1668.6 891.2L1670.5 891.9L1672.2 892.6L1673.8 893.2L1675.3 893.7L1676.8 894.3L1678.4 894.9L1679.9 895.5L1681.6 896.1L1683.5 896.8L1685.5 897.5" fill="none" stroke="#000" stroke-width="7.0" stroke-linejoin="round"/>
<g fill="#000"><rect x="221.0" y="126.0" width="23.0" height="23.0"/><rect x="274.8" y="138.5" width="23.0" height="23.0"/><rect x="331.5" y="157.5" width="23.0" height="23.0"/><rect x="381.5" y="210.0" width="23.0" height="23.0"/><rect x="428.7" y="277.0" width="23.0" height="23.0"/><rect x="478.7" y="342.5" width="23.0" height="23.0"/><rect x="532.5" y="398.5" width="23.0" height="23.0"/><rect x="592.6" y="444.5" width="23.0" height="23.0"/><rect x="656.8" y="482.5" width="23.0" height="23.0"/><rect x="726.6" y="517.5" width="23.0" height="23.0"/><rect x="797.7" y="548.5" width="23.0" height="23.0"/><rect x="870.2" y="580.0" width="23.0" height="23.0"/><rect x="944.8" y="608.5" width="23.0" height="23.0"/><rect x="1022.4" y="640.0" width="23.0" height="23.0"/><rect x="1099.5" y="670.0" width="23.0" height="23.0"/><rect x="1182.8" y="703.5" width="23.0" height="23.0"/><rect x="1269.5" y="738.5" width="23.0" height="23.0"/><rect x="1357.0" y="772.5" width="23.0" height="23.0"/><rect x="1447.7" y="805.0" width="23.0" height="23.0"/><rect x="1542.5" y="840.0" width="23.0" height="23.0"/><rect x="1639.6" y="873.5" width="23.0" height="23.0"/><rect x="1674.0" y="886.0" width="23.0" height="23.0"/></g>
</g>
<g stroke="#000" fill="none" stroke-linecap="butt">
<line x1="230.0" y1="45.1" x2="230.0" y2="1300.0" stroke-width="4.6000000000000005"/>
<line x1="207.0" y1="1277.0" x2="1882.5" y2="1277.0" stroke-width="4.2"/>
<line x1="367.5" y1="1277.0" x2="367.5" y2="1288.5" stroke-width="3.8"/>
<line x1="505.0" y1="1277.0" x2="505.0" y2="1300.0" stroke-width="3.8"/>
<line x1="642.5" y1="1277.0" x2="642.5" y2="1288.5" stroke-width="3.8"/>
<line x1="780.0" y1="1277.0" x2="780.0" y2="1300.0" stroke-width="3.8"/>
<line x1="917.5" y1="1277.0" x2="917.5" y2="1288.5" stroke-width="3.8"/>
<line x1="1055.0" y1="1277.0" x2="1055.0" y2="1300.0" stroke-width="3.8"/>
<line x1="1192.5" y1="1277.0" x2="1192.5" y2="1288.5" stroke-width="3.8"/>
<line x1="1330.0" y1="1277.0" x2="1330.0" y2="1300.0" stroke-width="3.8"/>
<line x1="1467.5" y1="1277.0" x2="1467.5" y2="1288.5" stroke-width="3.8"/>
<line x1="1605.0" y1="1277.0" x2="1605.0" y2="1300.0" stroke-width="3.8"/>
<line x1="1742.5" y1="1277.0" x2="1742.5" y2="1288.5" stroke-width="3.8"/>
<line x1="1880.0" y1="1277.0" x2="1880.0" y2="1300.0" stroke-width="3.8"/>
<line x1="207.0" y1="867.0" x2="230.0" y2="867.0" stroke-width="3.8"/>
<line x1="207.0" y1="457.0" x2="230.0" y2="457.0" stroke-width="3.8"/>
<line x1="207.0" y1="47.0" x2="230.0" y2="47.0" stroke-width="3.8"/>
<line x1="218.5" y1="1072.0" x2="230.0" y2="1072.0" stroke-width="3.8"/>
<line x1="218.5" y1="662.0" x2="230.0" y2="662.0" stroke-width="3.8"/>
<line x1="218.5" y1="252.0" x2="230.0" y2="252.0" stroke-width="3.8"/>
</g>
<g font-size="46" letter-spacing="1.2" stroke="#000" stroke-width="0.7">
<text x="231.2" y="1354.3" text-anchor="middle">0.0</text>
<text x="506.2" y="1354.3" text-anchor="middle">0.5</text>
<text x="781.2" y="1354.3" text-anchor="middle">1.0</text>
<text x="1056.2" y="1354.3" text-anchor="middle">1.5</text>
<text x="1331.2" y="1354.3" text-anchor="middle">2.0</text>
<text x="1606.2" y="1354.3" text-anchor="middle">2.5</text>
<text x="1881.2" y="1354.3" text-anchor="middle">3.0</text>
<text x="190.0" y="1290.7" text-anchor="end" letter-spacing="0">0</text>
<text x="190.0" y="880.7" text-anchor="end" letter-spacing="0">5</text>
<text x="190.0" y="470.7" text-anchor="end" letter-spacing="0">10</text>
<text x="190.0" y="60.7" text-anchor="end" letter-spacing="0">15</text>
</g>
<line x1="417.5" y1="906" x2="555.0" y2="906" stroke="#ff0000" stroke-width="8"/>
<line x1="417.5" y1="978" x2="462.5" y2="978" stroke="#0033ff" stroke-width="7.5"/>
<line x1="507.5" y1="978" x2="553.0" y2="978" stroke="#0033ff" stroke-width="7.5"/>
<g fill="#00ff00"><ellipse cx="424.5" cy="1065.5" rx="7" ry="4.5"/><ellipse cx="532.0" cy="1065.5" rx="7.5" ry="4.5"/><circle cx="484.0" cy="1065.5" r="13"/></g>
<line x1="418.0" y1="1153.5" x2="555.0" y2="1153.5" stroke="#000" stroke-width="7.5"/>
<rect x="475.0" y="1142.0" width="23" height="23"/>
<g font-size="56" stroke="#000" stroke-width="0.8">
<text x="568.5" y="926.0" letter-spacing="1.3">135 deg/s with elevator control</text>
<text x="568.0" y="998.5" letter-spacing="1.15">propeller lift t<tspan font-size="37" dx="-2" dy="16" letter-spacing="0.5">act</tspan><tspan dy="-16" letter-spacing="1.75"> = 0 s</tspan></text>
<text x="568.0" y="1084.5" letter-spacing="1.15">propeller lift t<tspan font-size="37" dx="-2" dy="16" letter-spacing="0.5">act</tspan><tspan dy="-16" letter-spacing="1.75"> = 0.5 s</tspan></text>
<text x="568.0" y="1170.5" letter-spacing="1.15">propeller lift t<tspan font-size="37" dx="-2" dy="16" letter-spacing="0.5">act</tspan><tspan dy="-16" letter-spacing="1.75"> = 1 s</tspan></text>
</g>
<g clip-path="url(#cr)">
<path d="M2137.5 461.0L2139.0 461.3L2140.5 461.6L2142.0 461.8L2143.5 462.1L2145.0 462.4L2146.5 462.8L2148.0 463.1L2149.5 463.4L2151.0 463.7L2152.5 464.0L2154.0 464.3L2155.5 464.6L2157.0 464.8L2158.5 465.0L2160.0 465.2L2161.5 465.3L2163.0 465.4L2164.5 465.5L2166.0 465.5L2167.5 465.6L2169.0 465.8L2170.5 466.1L2172.0 466.4L2173.5 466.7L2175.0 466.8L2176.5 467.0L2178.0 467.0L2179.5 466.9L2181.0 466.6L2182.5 466.2L2184.0 465.7L2185.5 465.0L2187.0 464.2L2188.5 463.3L2190.0 462.3L2191.5 461.3L2193.0 460.3L2194.5 459.2L2196.0 458.1L2197.5 456.9L2199.0 455.8L2200.5 454.7L2202.0 453.5L2203.5 452.4L2205.0 451.2L2206.5 450.0L2208.0 448.8L2209.5 447.6L2211.0 446.3L2212.5 445.1L2214.0 443.8L2215.5 442.5L2217.0 441.1L2218.5 439.8L2220.0 438.4L2221.5 437.0L2223.0 435.5L2224.5 434.1L2226.0 432.5L2227.5 431.0L2229.0 429.4L2230.5 427.8L2232.0 426.1L2233.5 424.4L2235.0 422.6L2236.5 420.8L2238.0 418.9L2239.5 417.0L2241.0 415.0L2242.5 412.9L2244.0 410.8L2245.5 408.5L2247.0 406.1L2248.5 403.7L2250.0 401.1L2251.5 398.3L2253.0 395.4L2254.5 392.3L2256.0 389.1L2257.5 385.8L2259.0 382.3L2260.5 378.7L2262.0 375.0L2263.5 371.2L2265.0 367.3L2266.5 363.3L2268.0 359.2L2269.5 355.1L2271.0 350.9L2272.5 346.6L2274.0 342.3L2275.5 338.0L2277.0 333.7L2278.5 329.4L2280.0 325.2L2281.5 321.0L2283.0 316.9L2284.5 312.9L2286.0 309.0L2287.5 305.0L2289.0 301.1L2290.5 297.3L2292.0 293.5L2293.5 289.8L2295.0 286.1L2296.5 282.5L2298.0 278.9L2299.5 275.4L2301.0 272.0L2302.5 268.7L2304.0 265.4L2305.5 262.1L2307.0 258.9L2308.5 255.8L2310.0 252.7L2311.5 249.6L2313.0 246.6L2314.5 243.6L2316.0 240.6L2317.5 237.6L2319.0 234.7L2320.5 231.8L2322.0 228.9L2323.5 226.1L2325.0 223.4L2326.5 220.6L2328.0 217.9L2329.5 215.3L2331.0 212.8L2332.5 210.3L2334.0 207.8L2335.5 205.5L2337.0 203.2L2338.5 200.9L2340.0 198.8L2341.5 196.7L2343.0 194.8L2344.5 192.9L2346.0 191.2L2347.5 189.5L2349.0 188.0L2350.5 186.7L2352.0 185.4L2353.5 184.2L2355.0 183.2L2356.5 182.2L2358.0 181.3L2359.5 180.5L2361.0 179.7L2362.5 179.0L2364.0 178.4L2365.5 177.8L2367.0 177.2L2368.5 176.6L2370.0 176.1L2371.5 175.5L2373.0 175.0L2374.5 174.4L2376.0 173.9L2377.5 173.3L2379.0 172.8L2380.5 172.3L2382.0 171.8L2383.5 171.3L2385.0 170.9L2386.5 170.4L2388.0 170.0L2389.5 169.5L2391.0 169.1L2392.5 168.7L2394.0 168.3L2395.5 167.9L2397.0 167.6L2398.5 167.2L2400.0 166.9L2401.5 166.6L2403.0 166.4L2404.5 166.2L2406.0 166.1L2407.5 166.1L2409.0 166.1L2410.5 166.2L2412.0 166.4L2413.5 166.6L2415.0 166.8L2416.5 167.1L2418.0 167.3L2419.5 167.6L2421.0 167.9L2422.5 168.2L2424.0 168.4L2425.5 168.8L2427.0 169.1L2428.5 169.5L2430.0 169.9L2431.5 170.3L2433.0 170.8L2434.5 171.3L2436.0 171.9L2437.5 172.5L2439.0 173.1L2440.5 173.7L2442.0 174.4L2443.5 175.1L2445.0 175.8L2446.5 176.5L2448.0 177.3L2449.5 178.1L2451.0 178.9L2452.5 179.7L2454.0 180.5L2455.5 181.4L2457.0 182.2L2458.5 183.1L2460.0 184.0L2461.5 184.9L2463.0 185.9L2464.5 186.8L2466.0 187.8L2467.5 188.8L2469.0 189.8L2470.5 190.8L2472.0 191.8L2473.5 192.8L2475.0 193.9L2476.5 194.9L2478.0 196.0L2479.5 197.0L2481.0 198.1L2482.5 199.1L2484.0 200.2L2485.5 201.2L2487.0 202.3L2488.5 203.4L2490.0 204.5L2491.5 205.6L2493.0 206.8L2494.5 207.9L2496.0 209.1L2497.5 210.4L2499.0 211.7L2500.5 213.0L2502.0 214.3L2503.5 215.6L2505.0 217.0L2506.5 218.4L2508.0 219.8L2509.5 221.2L2511.0 222.7L2512.5 224.1L2514.0 225.6L2515.5 227.1L2517.0 228.6L2518.5 230.2L2520.0 231.7L2521.5 233.3L2523.0 234.8L2524.5 236.4L2526.0 238.0L2527.5 239.6L2529.0 241.2L2530.5 242.8L2532.0 244.4L2533.5 246.0L2535.0 247.7L2536.5 249.3L2538.0 250.9L2539.5 252.6L2541.0 254.2L2542.5 255.9L2544.0 257.5L2545.5 259.2L2547.0 260.9L2548.5 262.5L2550.0 264.2L2551.5 265.9L2553.0 267.5L2554.5 269.2L2556.0 270.9L2557.5 272.6L2559.0 274.2L2560.5 275.9L2562.0 277.6L2563.5 279.2L2565.0 280.9L2566.5 282.5L2568.0 284.2L2569.5 285.9L2571.0 287.5L2572.5 289.2L2574.0 290.8L2575.5 292.5L2577.0 294.1L2578.5 295.8L2580.0 297.4L2581.5 299.1L2583.0 300.7L2584.5 302.4L2586.0 304.0L2587.5 305.7L2589.0 307.3L2590.5 309.0L2592.0 310.7L2593.5 312.3L2595.0 314.0L2596.5 315.7L2598.0 317.3L2599.5 319.0L2601.0 320.7L2602.5 322.3L2604.0 324.0L2605.5 325.7L2607.0 327.4L2608.5 329.0L2610.0 330.7L2611.5 332.4L2613.0 334.1L2614.5 335.7L2616.0 337.4L2617.5 339.1L2619.0 340.8L2620.5 342.4L2622.0 344.1L2623.5 345.8L2625.0 347.5L2626.5 349.2L2628.0 350.8L2629.5 352.5L2631.0 354.2L2632.5 355.9L2634.0 357.6L2635.5 359.3L2637.0 361.0L2638.5 362.6L2640.0 364.3L2641.5 366.0L2643.0 367.7L2644.5 369.4L2646.0 371.1L2647.5 372.8L2649.0 374.5L2650.5 376.2L2652.0 377.9L2653.5 379.6L2655.0 381.3L2656.5 383.0L2658.0 384.7L2659.5 386.4L2661.0 388.1L2662.5 389.8L2664.0 391.5L2665.5 393.3L2667.0 395.0L2668.5 396.7L2670.0 398.4L2671.5 400.1L2673.0 401.8L2674.5 403.6L2676.0 405.3L2677.5 407.0L2679.0 408.7L2680.5 410.5L2682.0 412.2L2683.5 413.9L2685.0 415.6L2686.5 417.4L2688.0 419.1L2689.5 420.8L2690.8 422.7L2691.9 424.7L2693.3 426.5L2695.5 427.7L2698.4 427.6L2701.9 426.5L2706.0 425.9L2711.0 427.5L2717.1 432.1L2724.2 438.7L2731.6 446.0L2739.0 452.5L2746.2 457.9L2753.4 462.8L2760.7 467.6L2768.0 472.5L2775.2 477.6L2782.5 482.7L2789.7 487.7L2797.0 492.5L2804.3 497.1L2811.7 501.4L2819.1 505.7L2826.5 510.0L2833.9 514.4L2841.4 518.9L2848.9 523.3L2856.5 527.5L2864.3 531.5L2872.2 535.2L2880.2 538.9L2888.0 542.5L2895.6 546.0L2903.0 549.4L2910.4 552.7L2918.0 556.0L2925.7 559.2L2933.6 562.3L2941.5 565.4L2949.5 568.5L2957.5 571.7L2965.6 575.0L2973.8 578.3L2982.0 581.5L2990.3 584.6L2998.7 587.7L3007.1 590.7L3015.5 594.0L3024.0 597.5L3032.6 601.2L3041.1 605.0L3049.5 608.5L3057.6 611.8L3065.6 614.8L3073.7 617.9L3082.0 621.0L3090.8 624.2L3099.8 627.5L3109.0 630.8L3118.0 634.0L3126.8 637.0L3135.4 640.0L3144.1 643.0L3153.0 646.0L3162.2 649.1L3171.5 652.2L3181.0 655.4L3190.5 659.0L3200.1 662.9L3209.7 667.1L3219.4 671.4L3229.0 676.0L3238.5 680.7L3247.9 685.6L3257.4 690.7L3267.0 696.0L3276.8 701.5L3286.8 707.2L3296.9 713.1L3307.0 719.0L3317.1 725.0L3327.3 731.0L3337.6 737.2L3348.0 743.5L3358.5 749.9L3369.2 756.4L3379.8 763.1L3390.5 770.0L3401.1 777.2L3411.8 784.6L3422.4 792.2L3433.0 800.0L3443.6 807.8L3454.2 815.8L3464.9 824.0L3475.5 832.5L3486.1 841.5L3496.8 850.9L3507.4 860.5L3518.0 870.0L3528.6 879.4L3539.2 888.7L3549.9 898.2L3560.5 908.0L3571.2 918.1L3581.8 928.5L3592.5 939.1L3603.0 950.0L3613.3 961.2L3623.6 972.7L3633.8 984.4L3644.0 996.0L3654.4 1007.7L3664.9 1019.4L3675.3 1031.1L3685.5 1042.5L3695.4 1053.7L3705.0 1064.7L3714.7 1075.5L3724.5 1086.0L3734.6 1096.1L3744.9 1105.8L3755.2 1115.4L3765.5 1125.0" fill="none" stroke="#00ff00" stroke-width="9.5" stroke-linecap="round" stroke-dasharray="4 49.5" stroke-dashoffset="23.5"/>
<g fill="#00ff00"><ellipse cx="2135.0" cy="461.0" rx="11.3" ry="13.5"/><ellipse cx="2155.9" cy="464.6" rx="11.3" ry="13.5"/><ellipse cx="2177.1" cy="467.0" rx="11.3" ry="13.5"/><ellipse cx="2198.6" cy="456.1" rx="12.6" ry="13.5"/><ellipse cx="2220.4" cy="438.0" rx="13.5" ry="13.5"/><ellipse cx="2242.5" cy="413.0" rx="13.5" ry="13.5"/><ellipse cx="2264.9" cy="367.7" rx="13.5" ry="13.5"/><ellipse cx="2287.6" cy="304.8" rx="13.5" ry="13.5"/><ellipse cx="2310.6" cy="251.4" rx="13.5" ry="13.5"/><ellipse cx="2334.0" cy="207.8" rx="13.5" ry="13.5"/><ellipse cx="2357.7" cy="181.5" rx="13.5" ry="13.5"/><ellipse cx="2381.7" cy="171.9" rx="13.1" ry="13.5"/><ellipse cx="2406.0" cy="166.1" rx="13.1" ry="13.5"/><ellipse cx="2430.7" cy="170.1" rx="13.1" ry="13.5"/><ellipse cx="2455.8" cy="181.5" rx="13.5" ry="13.5"/><ellipse cx="2481.2" cy="198.2" rx="13.5" ry="13.5"/><ellipse cx="2506.9" cy="218.8" rx="13.5" ry="13.5"/><ellipse cx="2533.0" cy="245.5" rx="13.5" ry="13.5"/><ellipse cx="2559.5" cy="274.8" rx="13.5" ry="13.5"/><ellipse cx="2586.3" cy="304.4" rx="13.5" ry="13.5"/><ellipse cx="2613.6" cy="334.7" rx="13.5" ry="13.5"/><ellipse cx="2641.2" cy="365.6" rx="13.5" ry="13.5"/><ellipse cx="2669.1" cy="397.4" rx="13.5" ry="13.5"/><ellipse cx="2711.0" cy="427.5" rx="13.5" ry="13.5"/><ellipse cx="2739.0" cy="452.5" rx="13.5" ry="13.5"/><ellipse cx="2768.0" cy="472.5" rx="13.5" ry="13.5"/><ellipse cx="2797.0" cy="492.5" rx="13.5" ry="13.5"/><ellipse cx="2826.5" cy="510.0" rx="13.5" ry="13.5"/><ellipse cx="2856.5" cy="527.5" rx="13.5" ry="13.5"/><ellipse cx="2888.0" cy="542.5" rx="13.5" ry="13.5"/><ellipse cx="2918.0" cy="556.0" rx="13.5" ry="13.5"/><ellipse cx="2949.5" cy="568.5" rx="13.5" ry="13.5"/><ellipse cx="2982.0" cy="581.5" rx="13.5" ry="13.5"/><ellipse cx="3015.5" cy="594.0" rx="13.5" ry="13.5"/><ellipse cx="3049.5" cy="608.5" rx="13.5" ry="13.5"/><ellipse cx="3082.0" cy="621.0" rx="13.5" ry="13.5"/><ellipse cx="3118.0" cy="634.0" rx="13.5" ry="13.5"/><ellipse cx="3153.0" cy="646.0" rx="13.5" ry="13.5"/><ellipse cx="3190.5" cy="659.0" rx="13.5" ry="13.5"/><ellipse cx="3229.0" cy="676.0" rx="13.5" ry="13.5"/><ellipse cx="3267.0" cy="696.0" rx="13.5" ry="13.5"/><ellipse cx="3307.0" cy="719.0" rx="13.5" ry="13.5"/><ellipse cx="3348.0" cy="743.5" rx="13.5" ry="13.5"/><ellipse cx="3390.5" cy="770.0" rx="13.5" ry="13.5"/><ellipse cx="3433.0" cy="800.0" rx="13.5" ry="13.5"/><ellipse cx="3475.5" cy="832.5" rx="13.5" ry="13.5"/><ellipse cx="3518.0" cy="870.0" rx="13.5" ry="13.5"/><ellipse cx="3560.5" cy="908.0" rx="13.5" ry="13.5"/><ellipse cx="3603.0" cy="950.0" rx="13.5" ry="13.5"/><ellipse cx="3644.0" cy="996.0" rx="13.5" ry="13.5"/><ellipse cx="3685.5" cy="1042.5" rx="13.5" ry="13.5"/><ellipse cx="3724.5" cy="1086.0" rx="13.5" ry="13.5"/><ellipse cx="3765.5" cy="1125.0" rx="13.5" ry="13.5"/></g>
<path d="M2137.5 461.0L2138.7 461.2L2139.8 461.4L2141.0 461.7L2142.1 461.9L2143.3 462.1L2144.5 462.3L2145.6 462.6L2146.8 462.8L2148.0 463.1L2149.1 463.3L2150.3 463.6L2151.5 463.8L2152.6 464.0L2153.8 464.3L2155.0 464.5L2156.1 464.7L2157.3 464.9L2158.4 465.0L2159.6 465.1L2160.7 465.2L2161.9 465.3L2163.0 465.3L2164.2 465.4L2165.2 465.5L2166.3 465.6L2167.3 465.7L2168.3 465.8L2169.3 466.0L2170.3 466.1L2171.2 466.2L2172.1 466.4L2173.0 466.6L2173.9 466.8L2174.7 466.9L2175.6 467.1L2176.6 467.1L2177.5 467.1L2178.5 467.0L2179.5 466.9L2180.5 466.7L2181.6 466.5L2182.8 466.0L2184.1 465.5L2185.4 464.8L2186.8 464.0L2188.2 463.1L2189.8 462.1L2191.4 461.0L2193.2 459.8L2195.1 458.5L2197.1 457.0L2199.2 455.5L2201.3 453.9L2203.5 452.2L2205.8 450.5L2208.2 448.7L2210.6 446.8L2213.1 444.8L2215.5 442.7L2218.0 440.5L2220.6 438.2L2223.1 435.7L2225.7 433.2L2228.3 430.6L2230.8 427.7L2233.3 424.8L2235.8 421.7L2238.2 418.5L2240.6 415.2L2243.0 411.7L2245.3 408.0L2247.6 404.0L2249.9 399.7L2252.1 395.2L2254.3 390.5L2256.4 385.5L2258.6 380.4L2260.7 375.1L2262.8 369.5L2265.0 363.7L2267.1 357.8L2269.2 351.7L2271.3 345.6L2273.3 339.5L2275.4 333.4L2277.5 327.2L2279.5 321.0L2281.6 314.9L2283.7 308.9L2285.7 303.1L2287.7 297.6L2289.6 292.6L2291.5 287.7L2293.5 282.6L2295.6 277.3L2297.9 271.5L2300.5 264.8L2303.4 257.4L2306.4 249.7L2309.5 242.1L2312.4 235.1L2315.0 229.0L2317.3 224.0L2319.5 219.7L2321.5 216.0L2323.5 212.6L2325.5 209.4L2327.5 206.0L2329.6 202.6L2331.7 199.4L2333.8 196.2L2335.8 193.2L2337.9 190.1L2340.0 187.0L2342.0 183.8L2344.0 180.6L2345.9 177.3L2348.0 174.1L2350.1 171.0L2352.5 168.0L2355.1 165.1L2357.9 162.2L2360.9 159.4L2363.9 156.8L2367.0 154.3L2370.0 152.0L2373.0 149.9L2376.0 147.9L2379.1 146.1L2382.2 144.5L2385.4 143.1L2388.8 142.0L2392.2 141.2L2395.9 140.6L2399.6 140.3L2403.4 140.1L2407.2 140.1L2411.0 140.0L2414.8 139.9L2418.6 139.9L2422.4 140.0L2426.3 140.2L2430.0 140.5L2433.8 141.0L2437.4 141.6L2440.9 142.4L2444.4 143.4L2447.9 144.4L2451.4 145.4L2455.0 146.5L2458.7 147.6L2462.5 148.7L2466.3 149.9L2470.1 151.1L2473.9 152.4L2477.5 153.8L2481.0 155.2L2484.4 156.6L2487.7 158.2L2490.9 159.7L2494.2 161.3L2497.5 163.0L2500.6 164.5L2503.5 165.9L2506.4 167.4L2509.5 169.1L2513.2 171.1L2517.5 173.8L2522.7 177.1L2528.7 181.1L2535.2 185.5L2541.9 190.1L2548.5 194.5L2555.0 198.8L2561.2 202.6L2567.5 206.4L2573.8 210.1L2580.0 213.8L2586.2 217.5L2592.5 221.5L2598.8 225.7L2605.1 230.0L2611.3 234.5L2617.6 238.9L2623.8 243.3L2630.0 247.5L2636.0 251.6L2641.9 255.6L2647.8 259.5L2653.6 263.4L2659.7 267.2L2666.0 271.0L2672.6 274.7L2679.5 278.4L2686.5 282.0L2693.6 285.6L2700.6 289.1L2707.5 292.5L2714.2 295.9L2720.9 299.1L2727.5 302.3L2734.1 305.5L2740.8 308.7L2747.5 312.0L2754.3 315.4L2761.2 318.8L2768.2 322.3L2775.1 325.8L2782.0 329.2L2788.8 332.5L2795.1 335.6L2801.0 338.5L2806.8 341.4L2812.9 344.3L2819.7 347.5L2827.5 351.0L2836.3 354.9L2845.9 359.0L2856.1 363.4L2867.0 367.9L2878.5 372.6L2890.5 377.5L2903.4 382.6L2917.4 387.9L2932.0 393.3L2946.7 398.9L2961.2 404.5L2975.0 410.0L2988.0 415.5L3000.6 420.9L3012.9 426.4L3025.2 431.9L3027.5 433.0" fill="none" stroke="#555" stroke-width="1.1" stroke-dasharray="2 7"/>
<path d="M2137.5 461.0L2138.7 461.2L2139.8 461.4L2141.0 461.7L2142.1 461.9L2143.3 462.1L2144.5 462.3L2145.6 462.6L2146.8 462.8L2148.0 463.1L2149.1 463.3L2150.3 463.6L2151.5 463.8L2152.6 464.0L2153.8 464.3L2155.0 464.5L2156.1 464.7L2157.3 464.9L2158.4 465.0L2159.6 465.1L2160.7 465.2L2161.9 465.3L2163.0 465.3L2164.2 465.4L2165.2 465.5L2166.3 465.6L2167.3 465.7L2168.3 465.8L2169.3 466.0L2170.3 466.1L2171.2 466.2L2172.1 466.4L2173.0 466.6L2173.9 466.8L2174.7 466.9L2175.6 467.1L2176.6 467.1L2177.5 467.1L2178.5 467.0L2179.5 466.9L2180.5 466.7L2181.6 466.5L2182.8 466.0L2184.1 465.5L2185.4 464.8L2186.8 464.0L2188.2 463.1L2189.8 462.1L2191.4 461.0L2193.2 459.8L2195.1 458.5L2197.1 457.0L2199.2 455.5L2201.3 453.9L2203.5 452.2L2205.8 450.5L2208.2 448.7L2210.6 446.8L2213.1 444.8L2215.5 442.7L2218.0 440.5L2220.6 438.2L2223.1 435.7L2225.7 433.2L2228.3 430.6L2230.8 427.7L2233.3 424.8L2235.8 421.7L2238.2 418.5L2240.6 415.2L2243.0 411.7L2245.3 408.0L2247.6 404.0L2249.9 399.7L2252.1 395.2L2254.3 390.5L2256.4 385.5L2258.6 380.4L2260.7 375.1L2262.8 369.5L2265.0 363.7L2267.1 357.8L2269.2 351.7L2271.3 345.6L2273.3 339.5L2275.4 333.4L2277.5 327.2L2279.5 321.0L2281.6 314.9L2283.7 308.9L2285.7 303.1L2287.7 297.6L2289.6 292.6L2291.5 287.7L2293.5 282.6L2295.6 277.3L2297.9 271.5L2300.5 264.8L2303.4 257.4L2306.4 249.7L2309.5 242.1L2312.4 235.1L2315.0 229.0L2317.3 224.0L2319.5 219.7L2321.5 216.0L2323.5 212.6L2325.5 209.4L2327.5 206.0L2329.6 202.6L2331.7 199.4L2333.8 196.2L2335.8 193.2L2337.9 190.1L2340.0 187.0L2342.0 183.8L2344.0 180.6L2345.9 177.3L2348.0 174.1L2350.1 171.0L2352.5 168.0L2355.1 165.1L2357.9 162.2L2360.9 159.4L2363.9 156.8L2367.0 154.3L2370.0 152.0L2373.0 149.9L2376.0 147.9L2379.1 146.1L2382.2 144.5L2385.4 143.1L2388.8 142.0L2392.2 141.2L2395.9 140.6L2399.6 140.3L2403.4 140.1L2407.2 140.1L2411.0 140.0L2414.8 139.9L2418.6 139.9L2422.4 140.0L2426.3 140.2L2430.0 140.5L2433.8 141.0L2437.4 141.6L2440.9 142.4L2444.4 143.4L2447.9 144.4L2451.4 145.4L2455.0 146.5L2458.7 147.6L2462.5 148.7L2466.3 149.9L2470.1 151.1L2473.9 152.4L2477.5 153.8L2481.0 155.2L2484.4 156.6L2487.7 158.2L2490.9 159.7L2494.2 161.3L2497.5 163.0L2500.6 164.5L2503.5 165.9L2506.4 167.4L2509.5 169.1L2513.2 171.1L2517.5 173.8L2522.7 177.1L2528.7 181.1L2535.2 185.5L2541.9 190.1L2548.5 194.5L2555.0 198.8L2561.2 202.6L2567.5 206.4L2573.8 210.1L2580.0 213.8L2586.2 217.5L2592.5 221.5L2598.8 225.7L2605.1 230.0L2611.3 234.5L2617.6 238.9L2623.8 243.3L2630.0 247.5L2636.0 251.6L2641.9 255.6L2647.8 259.5L2653.6 263.4L2659.7 267.2L2666.0 271.0L2672.6 274.7L2679.5 278.4L2686.5 282.0L2693.6 285.6L2700.6 289.1L2707.5 292.5L2714.2 295.9L2720.9 299.1L2727.5 302.3L2734.1 305.5L2740.8 308.7L2747.5 312.0L2754.3 315.4L2761.2 318.8L2768.2 322.3L2775.1 325.8L2782.0 329.2L2788.8 332.5L2795.1 335.6L2801.0 338.5L2806.8 341.4L2812.9 344.3L2819.7 347.5L2827.5 351.0L2836.3 354.9L2845.9 359.0L2856.1 363.4L2867.0 367.9L2878.5 372.6L2890.5 377.5L2903.4 382.6L2917.4 387.9L2932.0 393.3L2946.7 398.9L2961.2 404.5L2975.0 410.0L2988.0 415.5L3000.6 420.9L3012.9 426.4L3025.2 431.9L3027.5 433.0" fill="none" stroke="#0033ff" stroke-width="7.5" stroke-dasharray="44.0 46.5" stroke-dashoffset="11.2"/>
<path d="M3027.5 433.0L3037.5 437.4L3050.0 443.0L3062.7 448.6L3075.5 454.1L3088.3 459.6L3101.2 465.3L3114.3 471.0L3127.5 477.0L3141.0 483.1L3154.7 489.3L3168.6 495.7L3182.4 502.2L3196.1 509.0L3209.5 516.0L3222.6 523.3L3235.6 530.8L3248.3 538.6L3261.0 546.5L3273.5 554.7L3286.0 563.0L3298.3 571.5L3310.6 580.3L3322.7 589.2L3334.7 598.4L3346.6 607.6L3358.5 617.0L3370.4 626.5L3382.2 636.2L3393.9 646.0L3405.6 656.0L3417.1 666.0L3428.5 676.0L3439.8 686.1L3450.9 696.3L3461.9 706.5L3472.8 716.8L3483.7 727.1L3494.5 737.5L3505.3 747.9L3515.9 758.2L3526.6 768.7L3537.1 779.1L3547.6 789.8L3558.0 800.5L3568.3 811.5L3578.6 822.6L3588.7 833.8L3598.8 845.1L3608.9 856.4L3619.0 867.5L3629.1 878.5L3639.1 889.3L3649.1 900.1L3659.0 910.9L3669.0 921.9L3679.0 933.0L3689.2 944.5L3699.5 956.5L3709.8 968.6L3720.0 980.4L3729.8 991.9L3739.0 1002.5L3747.5 1012.2L3755.5 1021.3L3763.1 1029.8L3770.5 1038.1L3777.9 1046.4L3785.5 1055.0" fill="none" stroke="#555" stroke-width="1.1" stroke-dasharray="2 7"/>
<path d="M3027.5 433.0L3037.5 437.4L3050.0 443.0L3062.7 448.6L3075.5 454.1L3088.3 459.6L3101.2 465.3L3114.3 471.0L3127.5 477.0L3141.0 483.1L3154.7 489.3L3168.6 495.7L3182.4 502.2L3196.1 509.0L3209.5 516.0L3222.6 523.3L3235.6 530.8L3248.3 538.6L3261.0 546.5L3273.5 554.7L3286.0 563.0L3298.3 571.5L3310.6 580.3L3322.7 589.2L3334.7 598.4L3346.6 607.6L3358.5 617.0L3370.4 626.5L3382.2 636.2L3393.9 646.0L3405.6 656.0L3417.1 666.0L3428.5 676.0L3439.8 686.1L3450.9 696.3L3461.9 706.5L3472.8 716.8L3483.7 727.1L3494.5 737.5L3505.3 747.9L3515.9 758.2L3526.6 768.7L3537.1 779.1L3547.6 789.8L3558.0 800.5L3568.3 811.5L3578.6 822.6L3588.7 833.8L3598.8 845.1L3608.9 856.4L3619.0 867.5L3629.1 878.5L3639.1 889.3L3649.1 900.1L3659.0 910.9L3669.0 921.9L3679.0 933.0L3689.2 944.5L3699.5 956.5L3709.8 968.6L3720.0 980.4L3729.8 991.9L3739.0 1002.5L3747.5 1012.2L3755.5 1021.3L3763.1 1029.8L3770.5 1038.1L3777.9 1046.4L3785.5 1055.0" fill="none" stroke="#0033ff" stroke-width="7.5" stroke-dasharray="44.0 46.5" stroke-dashoffset="0.0"/>
<path d="M2137.5 461.0L2139.2 461.3L2141.0 461.6L2142.7 462.0L2144.4 462.3L2146.2 462.7L2147.9 463.1L2149.7 463.5L2151.4 463.8L2153.1 464.2L2154.9 464.5L2156.6 464.8L2158.3 465.0L2160.1 465.2L2161.8 465.4L2163.5 465.5L2165.2 465.5L2166.9 465.6L2168.5 465.7L2170.0 465.9L2171.4 466.2L2172.8 466.5L2174.2 466.7L2175.7 466.9L2177.1 467.0L2178.6 467.0L2180.2 466.9L2181.9 466.5L2183.7 466.0L2185.6 465.2L2187.7 464.1L2190.0 462.7L2192.5 461.0L2195.2 459.0L2198.3 456.7L2201.5 454.1L2204.9 451.3L2208.5 448.3L2212.3 445.1L2216.1 441.7L2219.9 438.2L2223.8 434.4L2227.7 430.5L2231.5 426.5L2235.2 422.4L2238.8 418.2L2242.2 413.8L2245.5 409.4L2248.5 405.0L2251.3 400.4L2254.1 395.4L2256.7 390.2L2259.3 384.8L2261.7 379.1L2264.1 373.4L2266.4 367.5L2268.7 361.6L2270.9 355.7L2273.0 349.9L2275.1 344.1L2277.1 338.4L2279.1 333.0L2281.1 327.7L2283.1 322.7L2285.0 318.0L2286.9 313.6L2288.6 309.4L2290.3 305.4L2291.8 301.6L2293.3 297.9L2294.8 294.3L2296.2 290.8L2297.6 287.4L2299.0 284.1L2300.4 280.8L2301.8 277.4L2303.3 274.1L2304.9 270.7L2306.5 267.2L2308.2 263.7L2310.0 260.0L2311.9 256.1L2313.9 252.1L2316.0 247.9L2318.2 243.6L2320.4 239.3L2322.6 234.9L2324.9 230.5L2327.2 226.2L2329.5 222.0L2331.8 217.9L2334.1 213.9L2336.4 210.2L2338.6 206.7L2340.8 203.5L2342.9 200.6L2345.0 198.0L2347.0 195.8L2349.0 193.9L2350.9 192.3L2352.7 191.0L2354.6 189.9L2356.4 189.0L2358.2 188.3L2360.0 187.7L2361.8 187.2L2363.6 186.8L2365.4 186.4L2367.3 186.1L2369.1 185.8L2371.0 185.4L2373.0 185.0L2375.0 184.5L2377.0 183.9L2379.1 183.4L2381.2 182.9L2383.3 182.5L2385.5 182.0L2387.6 181.6L2389.8 181.3L2392.0 180.9L2394.2 180.7L2396.4 180.4L2398.7 180.2L2400.9 180.1L2403.2 180.0L2405.4 179.9L2407.7 179.9L2410.0 180.0L2412.3 180.1L2414.6 180.3L2417.0 180.5L2419.4 180.8L2421.9 181.1L2424.3 181.5L2426.7 181.9L2429.2 182.4L2431.6 182.9L2434.1 183.4L2436.5 184.0L2438.9 184.6L2441.2 185.3L2443.5 186.0L2445.8 186.7L2448.0 187.5L2450.2 188.3L2452.3 189.2L2454.4 190.1L2456.5 191.1L2458.5 192.1L2460.6 193.1L2462.6 194.2L2464.6 195.3L2466.5 196.5L2468.5 197.6L2470.4 198.8L2472.4 200.0L2474.3 201.3L2476.2 202.5L2478.1 203.8L2480.0 205.0L2481.8 206.2L2483.5 207.3L2485.1 208.3L2486.7 209.2L2488.1 210.2L2489.6 211.1L2491.0 212.1L2492.5 213.1L2494.1 214.3L2495.7 215.5L2497.5 217.0L2499.4 218.6L2501.5 220.4L2503.7 222.5L2506.2 224.8L2509.0 227.5L2512.0 230.5L2515.3 233.7L2518.7 237.3L2522.4 241.1L2526.2 245.1L2530.2 249.3L2534.3 253.6L2538.5 258.1L2542.8 262.7L2547.1 267.3L2551.4 272.0L2555.7 276.7L2560.0 281.4L2564.3 286.0L2568.4 290.5L2572.5 295.0L2576.5 299.4L2580.5 303.8L2584.4 308.2L2588.4 312.6L2592.3 317.0L2596.3 321.5L2600.2 326.0L2604.2 330.5L2608.2 335.0L2612.2 339.6L2616.3 344.2L2620.4 348.8L2624.6 353.6L2628.8 358.3L2633.1 363.1L2637.5 368.0L2642.0 373.0L2646.5 378.0L2651.2 383.1L2655.9 388.3L2660.7 393.5L2665.5 398.8L2670.4 404.2L2675.3 409.5L2680.2 414.9L2685.1 420.2L2690.0 425.6L2694.9 431.0L2699.7 436.3L2704.6 441.6L2709.3 446.8L2714.0 452.0L2718.6 457.2L2723.2 462.3L2727.8 467.5L2732.3 472.6L2736.9 477.7L2741.3 482.9L2745.8 488.0L2750.3 493.1L2754.8 498.1L2759.3 503.2L2763.8 508.2L2768.3 513.2L2772.8 518.2L2777.3 523.2L2781.9 528.1L2786.5 533.0L2791.1 537.9L2795.8 542.7L2800.5 547.5L2805.2 552.2L2809.9 557.0L2814.6 561.7L2819.3 566.4L2824.0 571.1L2828.8 575.7L2833.5 580.4L2838.3 585.0L2843.0 589.6L2847.8 594.2L2852.5 598.8L2857.3 603.4L2862.0 608.0L2866.7 612.6L2871.5 617.2L2876.2 621.8L2880.9 626.4L2885.7 631.0L2890.4 635.5L2895.1 640.1L2899.9 644.6L2904.6 649.1L2909.4 653.6L2914.1 658.1L2918.9 662.6L2923.7 667.0L2928.4 671.4L2933.2 675.7L2938.0 680.0L2942.8 684.2L2947.6 688.4L2952.4 692.5L2957.3 696.5L2962.1 700.5L2967.0 704.4L2971.8 708.4L2976.7 712.3L2981.5 716.2L2986.4 720.2L2991.2 724.2L2996.1 728.2L3000.9 732.3L3005.8 736.4L3010.7 740.7L3015.5 745.0L3020.4 749.5L3025.3 754.0L3030.4 758.7L3035.4 763.5L3040.5 768.4L3045.6 773.3L3050.6 778.3L3055.7 783.2L3060.7 788.1L3065.6 793.0L3070.4 797.8L3075.2 802.5L3079.9 807.1L3084.4 811.6L3088.8 815.9L3093.0 820.0L3097.1 824.0L3101.0 827.8L3104.8 831.6L3108.4 835.2L3112.0 838.8L3115.5 842.2L3118.9 845.6L3122.2 849.0L3125.5 852.2L3128.7 855.4L3131.9 858.6L3135.1 861.7L3138.3 864.8L3141.5 867.9L3144.7 871.0L3148.0 874.0L3151.3 877.0L3154.5 879.9L3157.7 882.8L3160.9 885.6L3164.0 888.3L3167.1 891.0L3170.2 893.7L3173.3 896.3L3176.4 898.9L3179.5 901.5L3182.5 904.1L3185.6 906.8L3188.7 909.4L3191.8 912.1L3194.9 914.8L3198.0 917.5L3201.1 920.3L3204.2 923.1L3207.4 925.9L3210.5 928.7L3213.6 931.5L3216.8 934.4L3219.9 937.2L3223.0 940.1L3226.1 942.9L3229.2 945.7L3232.4 948.6L3235.5 951.4L3238.6 954.2L3241.8 957.0L3244.9 959.8L3248.0 962.5L3251.1 965.2L3254.2 967.9L3257.4 970.7L3260.5 973.4L3263.6 976.0L3266.8 978.7L3269.9 981.4L3273.0 984.1L3276.1 986.7L3279.2 989.4L3282.4 992.0L3285.5 994.6L3288.6 997.2L3291.8 999.8L3294.9 1002.4L3298.0 1005.0L3301.1 1007.6L3304.2 1010.1L3307.4 1012.7L3310.5 1015.2L3313.6 1017.8L3316.8 1020.3L3319.9 1022.8L3323.0 1025.3L3326.1 1027.8L3329.2 1030.3L3332.4 1032.8L3335.5 1035.2L3338.6 1037.7L3341.8 1040.1L3344.9 1042.6L3348.0 1045.0L3351.1 1047.4L3354.3 1049.9L3357.5 1052.3L3360.7 1054.7L3364.0 1057.2L3367.2 1059.6L3370.4 1062.0L3373.6 1064.4L3376.8 1066.7L3380.0 1069.1L3383.1 1071.4L3386.2 1073.7L3389.2 1076.0L3392.2 1078.2L3395.1 1080.4L3398.0 1082.5L3400.8 1084.6L3403.5 1086.6L3406.1 1088.6L3408.7 1090.6L3411.2 1092.5L3413.7 1094.5L3416.2 1096.3L3418.6 1098.2L3421.0 1100.0L3423.4 1101.8L3425.8 1103.6L3428.2 1105.4L3430.6 1107.2L3433.1 1109.0L3435.5 1110.7L3438.0 1112.5L3440.5 1114.3L3443.0 1116.0L3445.5 1117.7L3448.0 1119.4L3450.5 1121.0L3453.0 1122.7L3455.5 1124.3L3458.0 1126.0L3460.5 1127.6L3463.0 1129.2L3465.5 1130.8L3468.0 1132.5L3470.5 1134.1L3473.0 1135.7L3475.5 1137.4L3478.0 1139.0" fill="none" stroke="#ff0000" stroke-width="8"/>
<path d="M2137.5 461.0L2139.2 461.3L2141.0 461.6L2142.7 462.0L2144.5 462.3L2146.2 462.7L2148.0 463.1L2149.7 463.5L2151.5 463.8L2153.2 464.2L2155.0 464.5L2156.7 464.8L2158.4 465.0L2160.1 465.2L2161.9 465.4L2163.6 465.5L2165.2 465.5L2166.9 465.6L2168.4 465.7L2169.8 466.0L2171.2 466.2L2172.5 466.5L2173.9 466.8L2175.2 467.0L2176.6 467.1L2178.0 467.1L2179.5 466.9L2181.1 466.6L2182.8 466.0L2184.7 465.2L2186.8 464.1L2189.0 462.7L2191.4 461.0L2194.1 459.0L2197.1 456.9L2200.2 454.6L2203.5 452.2L2207.0 449.6L2210.6 446.8L2214.3 443.8L2218.0 440.5L2221.9 437.0L2225.7 433.2L2229.5 429.2L2233.3 424.8L2237.0 420.1L2240.7 415.1L2244.2 409.7L2247.6 404.0L2250.9 397.7L2254.2 390.7L2257.5 383.2L2260.7 375.1L2263.9 366.6L2267.1 357.8L2270.2 348.7L2273.3 339.5L2276.5 330.2L2279.5 321.0L2282.6 311.9L2285.7 303.1L2288.8 294.5L2291.8 286.3L2294.9 278.6L2297.9 271.5L2300.9 264.8L2303.9 258.2L2306.9 251.9L2309.9 245.6L2312.8 239.6L2315.7 233.8L2318.6 228.1L2321.5 222.7L2324.4 217.4L2327.3 212.3L2330.2 207.5L2333.1 202.8L2336.1 198.4L2339.1 194.2L2342.0 190.2L2345.1 186.5L2348.2 183.0L2351.4 179.8L2354.6 176.9L2358.0 174.2L2361.3 171.8L2364.7 169.6L2368.1 167.6L2371.5 165.8L2374.8 164.1L2378.0 162.6L2381.2 161.2L2384.3 159.9L2387.2 158.7L2390.0 157.6L2392.6 156.5L2395.1 155.5L2397.3 154.6L2399.4 153.8L2401.2 153.3L2403.0 152.8L2404.6 152.5L2406.1 152.3L2407.5 152.2L2408.8 152.2L2410.1 152.4L2411.4 152.5L2412.7 152.8L2414.0 153.1L2415.4 153.4L2416.8 153.8L2418.3 154.1L2419.9 154.5L2421.5 154.9L2423.1 155.2L2424.6 155.6L2426.1 156.0L2427.5 156.4L2429.0 156.9L2430.5 157.4L2432.1 158.0L2433.7 158.7L2435.4 159.6L2437.2 160.5L2439.1 161.6L2441.2 162.8L2443.5 164.2L2446.0 165.7L2448.7 167.5L2451.5 169.4L2454.7 171.6L2458.0 173.8L2461.4 176.2L2465.1 178.8L2468.8 181.5L2472.7 184.3L2476.7 187.2L2480.7 190.3L2484.7 193.4L2488.8 196.6L2492.9 200.0L2497.0 203.4L2501.1 206.9L2505.1 210.4L2509.0 214.0L2512.9 217.7L2516.8 221.5L2520.7 225.5L2524.5 229.6L2528.4 233.8L2532.4 238.0L2536.3 242.4L2540.2 246.8L2544.2 251.3L2548.2 255.8L2552.2 260.4L2556.2 265.0L2560.3 269.6L2564.4 274.3L2568.5 278.9L2572.7 283.5L2576.9 288.1L2581.1 292.8L2585.4 297.4L2589.7 302.1L2594.0 306.9L2598.4 311.6L2602.8 316.4L2607.2 321.3L2611.6 326.1L2616.1 331.0L2620.5 336.0L2625.0 340.9L2629.4 345.9L2633.9 350.9L2638.3 355.9L2642.7 361.0L2647.1 366.1L2651.6 371.3L2656.0 376.5L2660.4 381.7L2664.9 387.0L2669.3 392.3L2673.8 397.6L2678.3 403.0L2682.7 408.4L2687.2 413.8L2691.7 419.1L2696.1 424.5L2700.6 429.9L2705.1 435.3L2709.6 440.7L2714.1 446.0L2718.6 451.4L2723.1 456.8L2727.6 462.2L2732.1 467.6L2736.6 473.1L2741.1 478.6L2745.6 484.1L2750.2 489.5L2754.7 495.0L2759.2 500.4L2763.8 505.7L2768.3 511.0L2772.9 516.3L2777.5 521.4L2782.0 526.5L2786.6 531.5L2791.2 536.4L2795.9 541.2L2800.5 545.9L2805.1 550.6L2809.8 555.2L2814.4 559.7L2819.1 564.3L2823.7 568.7L2828.4 573.2L2833.1 577.6L2837.8 582.0L2842.5 586.4L2847.2 590.7L2851.9 595.1L2856.7 599.6L2861.4 604.0L2866.1 608.5L2870.9 613.0L2875.7 617.5L2880.5 622.0L2885.3 626.5L2890.1 631.0L2894.9 635.6L2899.7 640.0L2904.5 644.5L2909.3 648.9L2914.2 653.2L2919.0 657.5L2923.8 661.8L2928.6 665.9L2933.5 670.0L2938.3 674.0L2943.1 677.9L2947.9 681.8L2952.7 685.6L2957.4 689.3L2962.2 693.0L2967.0 696.6L2971.8 700.2L2976.5 703.7L2981.3 707.2L2986.2 710.6L2991.0 714.0L2995.9 717.3L3000.8 720.5L3005.7 723.7L3010.7 726.9L3015.7 730.0L3020.7 733.0L3025.8 736.0L3031.0 738.9L3036.1 741.8L3041.3 744.6L3046.5 747.4L3051.8 750.1L3057.0 752.7L3062.3 755.3L3067.6 757.9L3072.9 760.4L3078.2 762.9L3083.5 765.3L3088.8 767.8L3094.2 770.1L3099.5 772.5L3104.8 774.8L3110.1 777.0L3115.5 779.1L3120.8 781.1L3126.2 783.1L3131.6 785.0L3136.9 787.0L3142.3 788.8L3147.7 790.7L3153.1 792.6L3158.5 794.6L3164.0 796.5L3169.4 798.5L3174.8 800.6L3180.2 802.8L3185.7 805.0L3191.1 807.3L3196.5 809.6L3201.9 812.0L3207.3 814.3L3212.8 816.7L3218.2 819.2L3223.6 821.6L3229.1 824.2L3234.5 826.7L3240.0 829.3L3245.5 831.9L3251.0 834.6L3256.5 837.4L3262.0 840.2L3267.6 843.1L3273.1 846.0L3278.7 849.0L3284.3 852.1L3290.0 855.3L3295.6 858.6L3301.3 861.9L3306.9 865.2L3312.6 868.6L3318.3 872.1L3324.0 875.6L3329.8 879.1L3335.5 882.6L3341.3 886.1L3347.0 889.6L3352.8 893.1L3358.6 896.6L3364.4 900.0L3370.2 903.4L3376.0 906.8L3381.9 910.2L3387.7 913.6L3393.6 917.0L3399.5 920.5L3405.4 923.9L3411.3 927.3L3417.2 930.8L3423.2 934.2L3429.1 937.7L3435.1 941.2L3441.0 944.7L3447.0 948.3L3453.0 951.9L3458.9 955.5L3465.0 959.2L3471.3 963.1L3477.8 967.1L3484.4 971.2L3491.0 975.4L3497.7 979.6L3504.3 983.8L3510.9 988.0L3517.4 992.1L3523.7 996.1L3529.8 1000.0L3535.7 1003.8L3541.2 1007.3L3546.5 1010.6L3551.3 1013.7L3555.7 1016.5L3559.7 1019.0L3563.2 1021.2L3566.4 1023.2L3569.2 1025.0L3571.8 1026.6L3574.1 1028.1L3576.2 1029.4L3578.1 1030.6L3579.9 1031.7L3581.6 1032.8L3583.3 1033.9L3585.1 1035.0L3586.9 1036.1L3588.7 1037.3L3590.8 1038.6L3593.0 1040.0" fill="none" stroke="#000" stroke-width="7.6" stroke-linejoin="round"/>
<g fill="#000"><rect x="2126.0" y="449.5" width="23.0" height="23.0"/><rect x="2179.9" y="449.5" width="23.0" height="23.0"/><rect x="2236.1" y="392.5" width="23.0" height="23.0"/><rect x="2286.4" y="260.0" width="23.0" height="23.0"/><rect x="2333.6" y="175.0" width="23.0" height="23.0"/><rect x="2383.6" y="144.0" width="23.0" height="23.0"/><rect x="2437.2" y="156.0" width="23.0" height="23.0"/><rect x="2497.5" y="202.5" width="23.0" height="23.0"/><rect x="2561.2" y="272.0" width="23.0" height="23.0"/><rect x="2631.2" y="349.5" width="23.0" height="23.0"/><rect x="2702.6" y="434.5" width="23.0" height="23.0"/><rect x="2775.1" y="520.0" width="23.0" height="23.0"/><rect x="2849.9" y="592.5" width="23.0" height="23.0"/><rect x="2926.8" y="662.5" width="23.0" height="23.0"/><rect x="3004.2" y="718.5" width="23.0" height="23.0"/><rect x="3088.0" y="761.0" width="23.0" height="23.0"/><rect x="3174.2" y="793.5" width="23.0" height="23.0"/><rect x="3261.6" y="834.5" width="23.0" height="23.0"/><rect x="3352.9" y="888.5" width="23.0" height="23.0"/><rect x="3447.4" y="944.0" width="23.0" height="23.0"/><rect x="3544.2" y="1005.0" width="23.0" height="23.0"/><rect x="3581.5" y="1028.5" width="23.0" height="23.0"/></g>
</g>
<g stroke="#000" fill="none" stroke-linecap="butt">
<line x1="2135.0" y1="48.1" x2="2135.0" y2="1302.0" stroke-width="4.6000000000000005"/>
<line x1="2112.0" y1="1279.0" x2="3787.5" y2="1279.0" stroke-width="4.2"/>
<line x1="2272.5" y1="1279.0" x2="2272.5" y2="1290.5" stroke-width="3.8"/>
<line x1="2410.0" y1="1279.0" x2="2410.0" y2="1302.0" stroke-width="3.8"/>
<line x1="2547.5" y1="1279.0" x2="2547.5" y2="1290.5" stroke-width="3.8"/>
<line x1="2685.0" y1="1279.0" x2="2685.0" y2="1302.0" stroke-width="3.8"/>
<line x1="2822.5" y1="1279.0" x2="2822.5" y2="1290.5" stroke-width="3.8"/>
<line x1="2960.0" y1="1279.0" x2="2960.0" y2="1302.0" stroke-width="3.8"/>
<line x1="3097.5" y1="1279.0" x2="3097.5" y2="1290.5" stroke-width="3.8"/>
<line x1="3235.0" y1="1279.0" x2="3235.0" y2="1302.0" stroke-width="3.8"/>
<line x1="3372.5" y1="1279.0" x2="3372.5" y2="1290.5" stroke-width="3.8"/>
<line x1="3510.0" y1="1279.0" x2="3510.0" y2="1302.0" stroke-width="3.8"/>
<line x1="3647.5" y1="1279.0" x2="3647.5" y2="1290.5" stroke-width="3.8"/>
<line x1="3785.0" y1="1279.0" x2="3785.0" y2="1302.0" stroke-width="3.8"/>
<line x1="2112.0" y1="1005.9" x2="2135.0" y2="1005.9" stroke-width="3.8"/>
<line x1="2112.0" y1="732.8" x2="2135.0" y2="732.8" stroke-width="3.8"/>
<line x1="2112.0" y1="459.7" x2="2135.0" y2="459.7" stroke-width="3.8"/>
<line x1="2112.0" y1="186.6" x2="2135.0" y2="186.6" stroke-width="3.8"/>
<line x1="2123.5" y1="1142.4" x2="2135.0" y2="1142.4" stroke-width="3.8"/>
<line x1="2123.5" y1="869.3" x2="2135.0" y2="869.3" stroke-width="3.8"/>
<line x1="2123.5" y1="596.2" x2="2135.0" y2="596.2" stroke-width="3.8"/>
<line x1="2123.5" y1="323.1" x2="2135.0" y2="323.1" stroke-width="3.8"/>
<line x1="2123.5" y1="50.0" x2="2135.0" y2="50.0" stroke-width="3.8"/>
</g>
<g font-size="46" letter-spacing="1.2" stroke="#000" stroke-width="0.7">
<text x="2136.2" y="1356.3" text-anchor="middle">0.0</text>
<text x="2411.2" y="1356.3" text-anchor="middle">0.5</text>
<text x="2686.2" y="1356.3" text-anchor="middle">1.0</text>
<text x="2961.2" y="1356.3" text-anchor="middle">1.5</text>
<text x="3236.2" y="1356.3" text-anchor="middle">2.0</text>
<text x="3511.2" y="1356.3" text-anchor="middle">2.5</text>
<text x="3786.2" y="1356.3" text-anchor="middle">3.0</text>
<text x="2095.0" y="1292.7" text-anchor="end" letter-spacing="0">-6</text>
<text x="2095.0" y="1019.6" text-anchor="end" letter-spacing="0">-4</text>
<text x="2095.0" y="746.5" text-anchor="end" letter-spacing="0">-2</text>
<text x="2095.0" y="473.4" text-anchor="end" letter-spacing="0">0</text>
<text x="2095.0" y="200.3" text-anchor="end" letter-spacing="0">2</text>
</g>
<line x1="2175.5" y1="947" x2="2313.0" y2="947" stroke="#ff0000" stroke-width="8"/>
<line x1="2175.5" y1="1019" x2="2220.5" y2="1019" stroke="#0033ff" stroke-width="7.5"/>
<line x1="2265.5" y1="1019" x2="2311.0" y2="1019" stroke="#0033ff" stroke-width="7.5"/>
<g fill="#00ff00"><ellipse cx="2182.5" cy="1106.5" rx="7" ry="4.5"/><ellipse cx="2290.0" cy="1106.5" rx="7.5" ry="4.5"/><circle cx="2242.0" cy="1106.5" r="13"/></g>
<line x1="2176.0" y1="1194.5" x2="2313.0" y2="1194.5" stroke="#000" stroke-width="7.5"/>
<rect x="2233.0" y="1183.0" width="23" height="23"/>
<g font-size="56" stroke="#000" stroke-width="0.8">
<text x="2326.5" y="967.0" letter-spacing="1.3">135 deg/s with elevator control</text>
<text x="2326.0" y="1039.5" letter-spacing="1.15">propeller lift t<tspan font-size="37" dx="-2" dy="16" letter-spacing="0.5">act</tspan><tspan dy="-16" letter-spacing="1.75"> = 0 s</tspan></text>
<text x="2326.0" y="1125.5" letter-spacing="1.15">propeller lift t<tspan font-size="37" dx="-2" dy="16" letter-spacing="0.5">act</tspan><tspan dy="-16" letter-spacing="1.75"> = 0.5 s</tspan></text>
<text x="2326.0" y="1211.5" letter-spacing="1.15">propeller lift t<tspan font-size="37" dx="-2" dy="16" letter-spacing="0.5">act</tspan><tspan dy="-16" letter-spacing="1.75"> = 1 s</tspan></text>
</g>
<g font-size="56" letter-spacing="1.9" stroke="#000" stroke-width="0.8">
<text x="1057.5" y="1444.5" text-anchor="middle">time (s)</text>
<text x="2963.5" y="1447" text-anchor="middle">time (s)</text>
<text transform="translate(113.5 664) rotate(-90)" text-anchor="middle" letter-spacing="1.1">x velocity (m/s)</text>
<text transform="translate(2029 665) rotate(-90)" text-anchor="middle" letter-spacing="1.2">y velocity (m/s)</text>
</g>
<g font-size="61" font-weight="bold">
<text x="34" y="1457">(a)</text>
<text x="2001" y="1457">(b)</text>
</g>
</svg>
</body></html>
